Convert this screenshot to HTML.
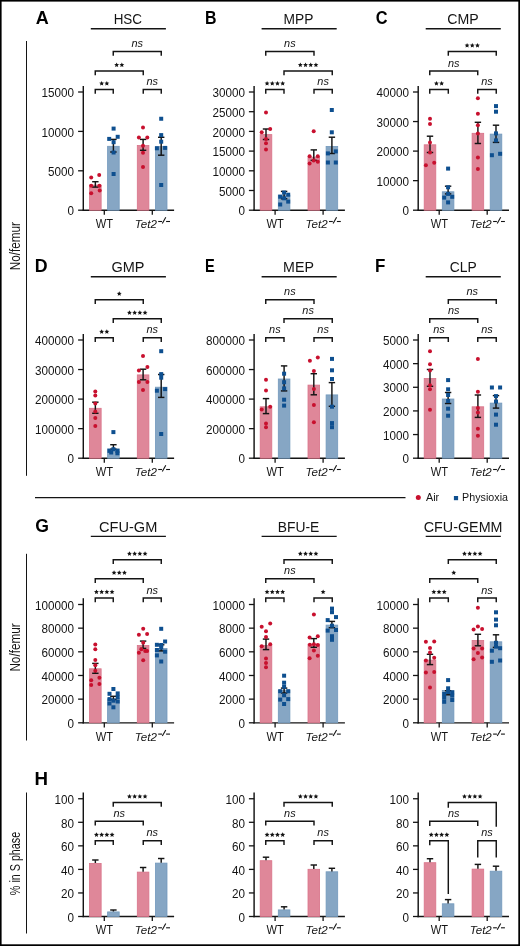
<!DOCTYPE html>
<html><head><meta charset="utf-8"><style>
html,body{margin:0;padding:0;background:#fff;width:520px;height:946px;overflow:hidden}
svg{display:block;font-family:"Liberation Sans",sans-serif;will-change:transform}
</style></head><body>
<svg width="520" height="946" viewBox="0 0 520 946">
<rect width="520" height="946" fill="#fff"/>
<line x1="26.50" y1="41.00" x2="26.50" y2="475.80" stroke="#141414" stroke-width="1.0"/>
<line x1="26.50" y1="553.80" x2="26.50" y2="740.50" stroke="#141414" stroke-width="1.0"/>
<line x1="26.50" y1="792.50" x2="26.50" y2="933.50" stroke="#141414" stroke-width="1.0"/>
<text transform="translate(20.00,270.21) rotate(-90) scale(0.794,1)" font-size="14.75" fill="#141414">No/femur</text>
<text transform="translate(20.00,671.61) rotate(-90) scale(0.796,1)" font-size="14.75" fill="#141414">No/femur</text>
<text transform="translate(20.40,895.14) rotate(-90) scale(0.729,1)" font-size="14.75" fill="#141414">% in S phase</text>
<line x1="35.00" y1="497.60" x2="405.50" y2="497.60" stroke="#141414" stroke-width="1.3"/>
<circle cx="418.30" cy="497.60" r="2.5" fill="#c8102e"/>
<text transform="translate(425.98,501.00) scale(1.045,1)" font-size="10.34" fill="#141414">Air</text>
<rect x="453.90" y="496.00" width="4.2" height="4.2" fill="#0e4f8f"/>
<text transform="translate(462.12,501.08) scale(1.026,1)" font-size="10.45" fill="#141414">Physioxia</text>
<text transform="translate(113.65,23.80) scale(0.908,1)" font-size="14.83" fill="#141414">HSC</text>
<line x1="90.80" y1="28.75" x2="165.90" y2="28.75" stroke="#141414" stroke-width="1.35"/>
<text transform="translate(35.80,23.75) scale(0.993,1)" font-size="18.17" font-weight="bold" fill="#000">A</text>
<text transform="translate(283.62,23.95) scale(0.903,1)" font-size="15.26" fill="#141414">MPP</text>
<line x1="261.60" y1="28.75" x2="336.70" y2="28.75" stroke="#141414" stroke-width="1.35"/>
<text transform="translate(204.98,23.75) scale(0.848,1)" font-size="18.75" font-weight="bold" fill="#000">B</text>
<text transform="translate(447.28,23.80) scale(0.955,1)" font-size="14.83" fill="#141414">CMP</text>
<line x1="425.70" y1="28.75" x2="500.80" y2="28.75" stroke="#141414" stroke-width="1.35"/>
<text transform="translate(375.78,23.76) scale(0.878,1)" font-size="18.64" font-weight="bold" fill="#000">C</text>
<line x1="83.30" y1="86.00" x2="83.30" y2="210.85" stroke="#141414" stroke-width="1.45"/>
<line x1="82.60" y1="210.20" x2="174.10" y2="210.20" stroke="#141414" stroke-width="1.35"/>
<line x1="104.30" y1="210.20" x2="104.30" y2="214.80" stroke="#141414" stroke-width="1.3"/>
<line x1="152.30" y1="210.20" x2="152.30" y2="214.80" stroke="#141414" stroke-width="1.3"/>
<line x1="78.10" y1="210.20" x2="83.30" y2="210.20" stroke="#141414" stroke-width="1.3"/>
<text transform="translate(74.10,215.40) scale(0.928,1)" font-size="12.60" text-anchor="end" fill="#141414">0</text>
<line x1="78.10" y1="170.80" x2="83.30" y2="170.80" stroke="#141414" stroke-width="1.3"/>
<text transform="translate(74.10,176.00) scale(0.928,1)" font-size="12.60" text-anchor="end" fill="#141414">5000</text>
<line x1="78.10" y1="131.40" x2="83.30" y2="131.40" stroke="#141414" stroke-width="1.3"/>
<text transform="translate(74.10,136.60) scale(0.928,1)" font-size="12.60" text-anchor="end" fill="#141414">10000</text>
<line x1="78.10" y1="92.00" x2="83.30" y2="92.00" stroke="#141414" stroke-width="1.3"/>
<text transform="translate(74.10,97.20) scale(0.928,1)" font-size="12.60" text-anchor="end" fill="#141414">15000</text>
<line x1="254.10" y1="86.00" x2="254.10" y2="210.85" stroke="#141414" stroke-width="1.45"/>
<line x1="253.40" y1="210.20" x2="344.90" y2="210.20" stroke="#141414" stroke-width="1.35"/>
<line x1="275.10" y1="210.20" x2="275.10" y2="214.80" stroke="#141414" stroke-width="1.3"/>
<line x1="323.10" y1="210.20" x2="323.10" y2="214.80" stroke="#141414" stroke-width="1.3"/>
<line x1="248.90" y1="210.20" x2="254.10" y2="210.20" stroke="#141414" stroke-width="1.3"/>
<text transform="translate(244.90,215.40) scale(0.928,1)" font-size="12.60" text-anchor="end" fill="#141414">0</text>
<line x1="248.90" y1="190.50" x2="254.10" y2="190.50" stroke="#141414" stroke-width="1.3"/>
<text transform="translate(244.90,195.70) scale(0.928,1)" font-size="12.60" text-anchor="end" fill="#141414">5000</text>
<line x1="248.90" y1="170.80" x2="254.10" y2="170.80" stroke="#141414" stroke-width="1.3"/>
<text transform="translate(244.90,176.00) scale(0.928,1)" font-size="12.60" text-anchor="end" fill="#141414">10000</text>
<line x1="248.90" y1="151.10" x2="254.10" y2="151.10" stroke="#141414" stroke-width="1.3"/>
<text transform="translate(244.90,156.30) scale(0.928,1)" font-size="12.60" text-anchor="end" fill="#141414">15000</text>
<line x1="248.90" y1="131.40" x2="254.10" y2="131.40" stroke="#141414" stroke-width="1.3"/>
<text transform="translate(244.90,136.60) scale(0.928,1)" font-size="12.60" text-anchor="end" fill="#141414">20000</text>
<line x1="248.90" y1="111.70" x2="254.10" y2="111.70" stroke="#141414" stroke-width="1.3"/>
<text transform="translate(244.90,116.90) scale(0.928,1)" font-size="12.60" text-anchor="end" fill="#141414">25000</text>
<line x1="248.90" y1="92.00" x2="254.10" y2="92.00" stroke="#141414" stroke-width="1.3"/>
<text transform="translate(244.90,97.20) scale(0.928,1)" font-size="12.60" text-anchor="end" fill="#141414">30000</text>
<line x1="418.20" y1="86.00" x2="418.20" y2="210.85" stroke="#141414" stroke-width="1.45"/>
<line x1="417.50" y1="210.20" x2="509.00" y2="210.20" stroke="#141414" stroke-width="1.35"/>
<line x1="439.20" y1="210.20" x2="439.20" y2="214.80" stroke="#141414" stroke-width="1.3"/>
<line x1="487.20" y1="210.20" x2="487.20" y2="214.80" stroke="#141414" stroke-width="1.3"/>
<line x1="413.00" y1="210.20" x2="418.20" y2="210.20" stroke="#141414" stroke-width="1.3"/>
<text transform="translate(409.00,215.40) scale(0.928,1)" font-size="12.60" text-anchor="end" fill="#141414">0</text>
<line x1="413.00" y1="180.65" x2="418.20" y2="180.65" stroke="#141414" stroke-width="1.3"/>
<text transform="translate(409.00,185.85) scale(0.928,1)" font-size="12.60" text-anchor="end" fill="#141414">10000</text>
<line x1="413.00" y1="151.10" x2="418.20" y2="151.10" stroke="#141414" stroke-width="1.3"/>
<text transform="translate(409.00,156.30) scale(0.928,1)" font-size="12.60" text-anchor="end" fill="#141414">20000</text>
<line x1="413.00" y1="121.55" x2="418.20" y2="121.55" stroke="#141414" stroke-width="1.3"/>
<text transform="translate(409.00,126.75) scale(0.928,1)" font-size="12.60" text-anchor="end" fill="#141414">30000</text>
<line x1="413.00" y1="92.00" x2="418.20" y2="92.00" stroke="#141414" stroke-width="1.3"/>
<text transform="translate(409.00,97.20) scale(0.928,1)" font-size="12.60" text-anchor="end" fill="#141414">40000</text>
<text transform="translate(95.79,228.15) scale(0.891,1)" font-size="12.50" fill="#141414">WT</text>
<text transform="translate(134.81,228.04) scale(1.013,1)" font-size="11.44" font-style="italic" fill="#141414">Tet2</text>
<line x1="158.20" y1="221.50" x2="162.00" y2="221.50" stroke="#141414" stroke-width="1.1"/>
<line x1="166.10" y1="221.50" x2="170.00" y2="221.50" stroke="#141414" stroke-width="1.1"/>
<line x1="162.30" y1="223.50" x2="165.80" y2="217.30" stroke="#141414" stroke-width="1.1"/>
<text transform="translate(266.59,228.15) scale(0.891,1)" font-size="12.50" fill="#141414">WT</text>
<text transform="translate(305.61,228.04) scale(1.013,1)" font-size="11.44" font-style="italic" fill="#141414">Tet2</text>
<line x1="329.00" y1="221.50" x2="332.80" y2="221.50" stroke="#141414" stroke-width="1.1"/>
<line x1="336.90" y1="221.50" x2="340.80" y2="221.50" stroke="#141414" stroke-width="1.1"/>
<line x1="333.10" y1="223.50" x2="336.60" y2="217.30" stroke="#141414" stroke-width="1.1"/>
<text transform="translate(430.69,228.15) scale(0.891,1)" font-size="12.50" fill="#141414">WT</text>
<text transform="translate(469.71,228.04) scale(1.013,1)" font-size="11.44" font-style="italic" fill="#141414">Tet2</text>
<line x1="493.10" y1="221.50" x2="496.90" y2="221.50" stroke="#141414" stroke-width="1.1"/>
<line x1="501.00" y1="221.50" x2="504.90" y2="221.50" stroke="#141414" stroke-width="1.1"/>
<line x1="497.20" y1="223.50" x2="500.70" y2="217.30" stroke="#141414" stroke-width="1.1"/>
<path d="M95.25,93.70 L95.25,89.50 L113.25,89.50 L113.25,93.70" fill="none" stroke="#141414" stroke-width="1.45" stroke-linejoin="miter" stroke-linecap="butt"/>
<path d="M101.65,80.90 L102.35,82.53 L104.12,82.69 L102.79,83.87 L103.18,85.60 L101.65,84.69 L100.12,85.60 L100.51,83.87 L99.18,82.69 L100.95,82.53Z M106.85,80.90 L107.55,82.53 L109.32,82.69 L107.99,83.87 L108.38,85.60 L106.85,84.69 L105.32,85.60 L105.71,83.87 L104.38,82.69 L106.15,82.53Z" fill="#141414"/>
<path d="M143.25,93.70 L143.25,89.50 L161.25,89.50 L161.25,93.70" fill="none" stroke="#141414" stroke-width="1.45" stroke-linejoin="miter" stroke-linecap="butt"/>
<text transform="translate(152.25,85.10) scale(0.96,1)" font-size="11.4" font-style="italic" text-anchor="middle" fill="#141414">ns</text>
<path d="M95.25,75.20 L95.25,71.00 L143.25,71.00 L143.25,75.20" fill="none" stroke="#141414" stroke-width="1.45" stroke-linejoin="miter" stroke-linecap="butt"/>
<path d="M116.65,62.40 L117.35,64.03 L119.12,64.19 L117.79,65.37 L118.18,67.10 L116.65,66.19 L115.12,67.10 L115.51,65.37 L114.18,64.19 L115.95,64.03Z M121.85,62.40 L122.55,64.03 L124.32,64.19 L122.99,65.37 L123.38,67.10 L121.85,66.19 L120.32,67.10 L120.71,65.37 L119.38,64.19 L121.15,64.03Z" fill="#141414"/>
<path d="M113.25,55.70 L113.25,51.50 L161.25,51.50 L161.25,55.70" fill="none" stroke="#141414" stroke-width="1.45" stroke-linejoin="miter" stroke-linecap="butt"/>
<text transform="translate(137.25,47.10) scale(0.96,1)" font-size="11.4" font-style="italic" text-anchor="middle" fill="#141414">ns</text>
<path d="M265.75,93.70 L265.75,89.50 L284.00,89.50 L284.00,93.70" fill="none" stroke="#141414" stroke-width="1.45" stroke-linejoin="miter" stroke-linecap="butt"/>
<path d="M267.07,80.90 L267.78,82.53 L269.55,82.69 L268.21,83.87 L268.60,85.60 L267.07,84.69 L265.55,85.60 L265.94,83.87 L264.60,82.69 L266.37,82.53Z M272.27,80.90 L272.98,82.53 L274.75,82.69 L273.41,83.87 L273.80,85.60 L272.27,84.69 L270.75,85.60 L271.14,83.87 L269.80,82.69 L271.57,82.53Z M277.48,80.90 L278.18,82.53 L279.95,82.69 L278.61,83.87 L279.00,85.60 L277.48,84.69 L275.95,85.60 L276.34,83.87 L275.00,82.69 L276.77,82.53Z M282.68,80.90 L283.38,82.53 L285.15,82.69 L283.81,83.87 L284.20,85.60 L282.68,84.69 L281.15,85.60 L281.54,83.87 L280.20,82.69 L281.97,82.53Z" fill="#141414"/>
<path d="M314.00,93.70 L314.00,89.50 L332.25,89.50 L332.25,93.70" fill="none" stroke="#141414" stroke-width="1.45" stroke-linejoin="miter" stroke-linecap="butt"/>
<text transform="translate(323.12,85.10) scale(0.96,1)" font-size="11.4" font-style="italic" text-anchor="middle" fill="#141414">ns</text>
<path d="M284.00,75.20 L284.00,71.00 L332.25,71.00 L332.25,75.20" fill="none" stroke="#141414" stroke-width="1.45" stroke-linejoin="miter" stroke-linecap="butt"/>
<path d="M300.32,62.40 L301.03,64.03 L302.80,64.19 L301.46,65.37 L301.85,67.10 L300.32,66.19 L298.80,67.10 L299.19,65.37 L297.85,64.19 L299.62,64.03Z M305.52,62.40 L306.23,64.03 L308.00,64.19 L306.66,65.37 L307.05,67.10 L305.52,66.19 L304.00,67.10 L304.39,65.37 L303.05,64.19 L304.82,64.03Z M310.73,62.40 L311.43,64.03 L313.20,64.19 L311.86,65.37 L312.25,67.10 L310.73,66.19 L309.20,67.10 L309.59,65.37 L308.25,64.19 L310.02,64.03Z M315.93,62.40 L316.63,64.03 L318.40,64.19 L317.06,65.37 L317.45,67.10 L315.93,66.19 L314.40,67.10 L314.79,65.37 L313.45,64.19 L315.22,64.03Z" fill="#141414"/>
<path d="M265.75,55.70 L265.75,51.50 L314.00,51.50 L314.00,55.70" fill="none" stroke="#141414" stroke-width="1.45" stroke-linejoin="miter" stroke-linecap="butt"/>
<text transform="translate(289.88,47.10) scale(0.96,1)" font-size="11.4" font-style="italic" text-anchor="middle" fill="#141414">ns</text>
<path d="M429.75,93.70 L429.75,89.50 L448.30,89.50 L448.30,93.70" fill="none" stroke="#141414" stroke-width="1.45" stroke-linejoin="miter" stroke-linecap="butt"/>
<path d="M436.42,80.90 L437.13,82.53 L438.90,82.69 L437.56,83.87 L437.95,85.60 L436.42,84.69 L434.90,85.60 L435.29,83.87 L433.95,82.69 L435.72,82.53Z M441.62,80.90 L442.33,82.53 L444.10,82.69 L442.76,83.87 L443.15,85.60 L441.62,84.69 L440.10,85.60 L440.49,83.87 L439.15,82.69 L440.92,82.53Z" fill="#141414"/>
<path d="M477.75,93.70 L477.75,89.50 L496.25,89.50 L496.25,93.70" fill="none" stroke="#141414" stroke-width="1.45" stroke-linejoin="miter" stroke-linecap="butt"/>
<text transform="translate(487.00,85.10) scale(0.96,1)" font-size="11.4" font-style="italic" text-anchor="middle" fill="#141414">ns</text>
<path d="M429.75,75.20 L429.75,71.00 L477.75,71.00 L477.75,75.20" fill="none" stroke="#141414" stroke-width="1.45" stroke-linejoin="miter" stroke-linecap="butt"/>
<text transform="translate(453.75,66.60) scale(0.96,1)" font-size="11.4" font-style="italic" text-anchor="middle" fill="#141414">ns</text>
<path d="M448.30,55.70 L448.30,51.50 L496.25,51.50 L496.25,55.70" fill="none" stroke="#141414" stroke-width="1.45" stroke-linejoin="miter" stroke-linecap="butt"/>
<path d="M467.07,42.90 L467.78,44.53 L469.55,44.69 L468.21,45.87 L468.60,47.60 L467.07,46.69 L465.55,47.60 L465.94,45.87 L464.60,44.69 L466.37,44.53Z M472.27,42.90 L472.98,44.53 L474.75,44.69 L473.41,45.87 L473.80,47.60 L472.27,46.69 L470.75,47.60 L471.14,45.87 L469.80,44.69 L471.57,44.53Z M477.47,42.90 L478.18,44.53 L479.95,44.69 L478.61,45.87 L479.00,47.60 L477.47,46.69 L475.95,47.60 L476.34,45.87 L475.00,44.69 L476.77,44.53Z" fill="#141414"/>
<rect x="89.55" y="185.10" width="11.60" height="25.10" fill="#df8799" stroke="#d97389" stroke-width="0.8"/>
<rect x="107.60" y="146.30" width="11.60" height="63.90" fill="#86a6c4" stroke="#7399bd" stroke-width="0.8"/>
<rect x="137.30" y="145.50" width="11.60" height="64.70" fill="#df8799" stroke="#d97389" stroke-width="0.8"/>
<rect x="155.40" y="146.60" width="11.60" height="63.60" fill="#86a6c4" stroke="#7399bd" stroke-width="0.8"/>
<line x1="95.35" y1="181.70" x2="95.35" y2="187.10" stroke="#141414" stroke-width="1.45"/>
<line x1="92.15" y1="181.70" x2="98.55" y2="181.70" stroke="#141414" stroke-width="1.45"/>
<line x1="92.15" y1="187.10" x2="98.55" y2="187.10" stroke="#141414" stroke-width="1.45"/>
<line x1="113.40" y1="139.40" x2="113.40" y2="152.00" stroke="#141414" stroke-width="1.45"/>
<line x1="110.20" y1="139.40" x2="116.60" y2="139.40" stroke="#141414" stroke-width="1.45"/>
<line x1="110.20" y1="152.00" x2="116.60" y2="152.00" stroke="#141414" stroke-width="1.45"/>
<line x1="143.10" y1="139.40" x2="143.10" y2="150.30" stroke="#141414" stroke-width="1.45"/>
<line x1="139.90" y1="139.40" x2="146.30" y2="139.40" stroke="#141414" stroke-width="1.45"/>
<line x1="139.90" y1="150.30" x2="146.30" y2="150.30" stroke="#141414" stroke-width="1.45"/>
<line x1="161.20" y1="137.30" x2="161.20" y2="155.20" stroke="#141414" stroke-width="1.45"/>
<line x1="158.00" y1="137.30" x2="164.40" y2="137.30" stroke="#141414" stroke-width="1.45"/>
<line x1="158.00" y1="155.20" x2="164.40" y2="155.20" stroke="#141414" stroke-width="1.45"/>
<circle cx="91.20" cy="177.60" r="2.0" fill="#c8102e"/>
<circle cx="99.20" cy="175.00" r="2.0" fill="#c8102e"/>
<circle cx="91.20" cy="185.80" r="2.0" fill="#c8102e"/>
<circle cx="99.40" cy="185.80" r="2.0" fill="#c8102e"/>
<circle cx="99.70" cy="190.40" r="2.0" fill="#c8102e"/>
<circle cx="91.20" cy="193.30" r="2.0" fill="#c8102e"/>
<rect x="111.60" y="126.60" width="4.0" height="4.0" fill="#0e4f8f"/>
<rect x="107.20" y="136.90" width="4.0" height="4.0" fill="#0e4f8f"/>
<rect x="115.70" y="134.80" width="4.0" height="4.0" fill="#0e4f8f"/>
<rect x="111.60" y="140.20" width="4.0" height="4.0" fill="#0e4f8f"/>
<rect x="111.60" y="150.50" width="4.0" height="4.0" fill="#0e4f8f"/>
<rect x="111.60" y="172.00" width="4.0" height="4.0" fill="#0e4f8f"/>
<circle cx="143.00" cy="127.50" r="2.0" fill="#c8102e"/>
<circle cx="138.90" cy="137.60" r="2.0" fill="#c8102e"/>
<circle cx="147.30" cy="137.40" r="2.0" fill="#c8102e"/>
<circle cx="143.00" cy="145.80" r="2.0" fill="#c8102e"/>
<circle cx="143.00" cy="152.80" r="2.0" fill="#c8102e"/>
<circle cx="143.00" cy="167.00" r="2.0" fill="#c8102e"/>
<rect x="159.20" y="116.75" width="4.0" height="4.0" fill="#0e4f8f"/>
<rect x="159.20" y="133.10" width="4.0" height="4.0" fill="#0e4f8f"/>
<rect x="159.20" y="139.70" width="4.0" height="4.0" fill="#0e4f8f"/>
<rect x="154.90" y="146.30" width="4.0" height="4.0" fill="#0e4f8f"/>
<rect x="163.10" y="145.90" width="4.0" height="4.0" fill="#0e4f8f"/>
<rect x="159.20" y="183.00" width="4.0" height="4.0" fill="#0e4f8f"/>
<rect x="260.20" y="134.60" width="11.60" height="75.60" fill="#df8799" stroke="#d97389" stroke-width="0.8"/>
<rect x="278.30" y="195.10" width="11.60" height="15.10" fill="#86a6c4" stroke="#7399bd" stroke-width="0.8"/>
<rect x="308.00" y="157.20" width="11.60" height="53.00" fill="#df8799" stroke="#d97389" stroke-width="0.8"/>
<rect x="326.10" y="146.40" width="11.60" height="63.80" fill="#86a6c4" stroke="#7399bd" stroke-width="0.8"/>
<line x1="266.00" y1="129.00" x2="266.00" y2="139.50" stroke="#141414" stroke-width="1.45"/>
<line x1="262.80" y1="129.00" x2="269.20" y2="129.00" stroke="#141414" stroke-width="1.45"/>
<line x1="262.80" y1="139.50" x2="269.20" y2="139.50" stroke="#141414" stroke-width="1.45"/>
<line x1="284.10" y1="191.40" x2="284.10" y2="198.80" stroke="#141414" stroke-width="1.45"/>
<line x1="280.90" y1="191.40" x2="287.30" y2="191.40" stroke="#141414" stroke-width="1.45"/>
<line x1="280.90" y1="198.80" x2="287.30" y2="198.80" stroke="#141414" stroke-width="1.45"/>
<line x1="313.80" y1="149.90" x2="313.80" y2="160.40" stroke="#141414" stroke-width="1.45"/>
<line x1="310.60" y1="149.90" x2="317.00" y2="149.90" stroke="#141414" stroke-width="1.45"/>
<line x1="310.60" y1="160.40" x2="317.00" y2="160.40" stroke="#141414" stroke-width="1.45"/>
<line x1="331.90" y1="137.20" x2="331.90" y2="153.50" stroke="#141414" stroke-width="1.45"/>
<line x1="328.70" y1="137.20" x2="335.10" y2="137.20" stroke="#141414" stroke-width="1.45"/>
<line x1="328.70" y1="153.50" x2="335.10" y2="153.50" stroke="#141414" stroke-width="1.45"/>
<circle cx="266.00" cy="112.50" r="2.0" fill="#c8102e"/>
<circle cx="270.20" cy="129.00" r="2.0" fill="#c8102e"/>
<circle cx="261.70" cy="132.30" r="2.0" fill="#c8102e"/>
<circle cx="266.00" cy="139.10" r="2.0" fill="#c8102e"/>
<circle cx="266.00" cy="143.20" r="2.0" fill="#c8102e"/>
<circle cx="266.00" cy="149.40" r="2.0" fill="#c8102e"/>
<rect x="282.10" y="190.60" width="4.0" height="4.0" fill="#0e4f8f"/>
<rect x="278.20" y="194.70" width="4.0" height="4.0" fill="#0e4f8f"/>
<rect x="286.20" y="192.70" width="4.0" height="4.0" fill="#0e4f8f"/>
<rect x="282.10" y="196.30" width="4.0" height="4.0" fill="#0e4f8f"/>
<rect x="286.20" y="199.60" width="4.0" height="4.0" fill="#0e4f8f"/>
<rect x="278.20" y="202.50" width="4.0" height="4.0" fill="#0e4f8f"/>
<circle cx="313.70" cy="131.30" r="2.0" fill="#c8102e"/>
<circle cx="309.60" cy="156.30" r="2.0" fill="#c8102e"/>
<circle cx="317.80" cy="156.30" r="2.0" fill="#c8102e"/>
<circle cx="313.70" cy="160.40" r="2.0" fill="#c8102e"/>
<circle cx="317.80" cy="161.70" r="2.0" fill="#c8102e"/>
<circle cx="309.60" cy="163.60" r="2.0" fill="#c8102e"/>
<rect x="329.80" y="108.00" width="4.0" height="4.0" fill="#0e4f8f"/>
<rect x="329.80" y="130.30" width="4.0" height="4.0" fill="#0e4f8f"/>
<rect x="325.90" y="151.40" width="4.0" height="4.0" fill="#0e4f8f"/>
<rect x="333.80" y="149.40" width="4.0" height="4.0" fill="#0e4f8f"/>
<rect x="325.90" y="160.50" width="4.0" height="4.0" fill="#0e4f8f"/>
<rect x="333.80" y="160.50" width="4.0" height="4.0" fill="#0e4f8f"/>
<rect x="424.20" y="144.80" width="11.60" height="65.40" fill="#df8799" stroke="#d97389" stroke-width="0.8"/>
<rect x="442.30" y="191.80" width="11.60" height="18.40" fill="#86a6c4" stroke="#7399bd" stroke-width="0.8"/>
<rect x="472.10" y="133.30" width="11.60" height="76.90" fill="#df8799" stroke="#d97389" stroke-width="0.8"/>
<rect x="490.20" y="134.10" width="11.60" height="76.10" fill="#86a6c4" stroke="#7399bd" stroke-width="0.8"/>
<line x1="430.00" y1="136.20" x2="430.00" y2="152.50" stroke="#141414" stroke-width="1.45"/>
<line x1="426.80" y1="136.20" x2="433.20" y2="136.20" stroke="#141414" stroke-width="1.45"/>
<line x1="426.80" y1="152.50" x2="433.20" y2="152.50" stroke="#141414" stroke-width="1.45"/>
<line x1="448.10" y1="186.20" x2="448.10" y2="193.90" stroke="#141414" stroke-width="1.45"/>
<line x1="444.90" y1="186.20" x2="451.30" y2="186.20" stroke="#141414" stroke-width="1.45"/>
<line x1="444.90" y1="193.90" x2="451.30" y2="193.90" stroke="#141414" stroke-width="1.45"/>
<line x1="477.90" y1="122.30" x2="477.90" y2="143.50" stroke="#141414" stroke-width="1.45"/>
<line x1="474.70" y1="122.30" x2="481.10" y2="122.30" stroke="#141414" stroke-width="1.45"/>
<line x1="474.70" y1="143.50" x2="481.10" y2="143.50" stroke="#141414" stroke-width="1.45"/>
<line x1="496.00" y1="125.20" x2="496.00" y2="142.40" stroke="#141414" stroke-width="1.45"/>
<line x1="492.80" y1="125.20" x2="499.20" y2="125.20" stroke="#141414" stroke-width="1.45"/>
<line x1="492.80" y1="142.40" x2="499.20" y2="142.40" stroke="#141414" stroke-width="1.45"/>
<circle cx="430.00" cy="118.70" r="2.0" fill="#c8102e"/>
<circle cx="430.00" cy="123.90" r="2.0" fill="#c8102e"/>
<circle cx="430.00" cy="142.40" r="2.0" fill="#c8102e"/>
<circle cx="430.00" cy="152.50" r="2.0" fill="#c8102e"/>
<circle cx="425.90" cy="165.30" r="2.0" fill="#c8102e"/>
<circle cx="434.20" cy="162.80" r="2.0" fill="#c8102e"/>
<rect x="446.10" y="166.60" width="4.0" height="4.0" fill="#0e4f8f"/>
<rect x="446.10" y="185.30" width="4.0" height="4.0" fill="#0e4f8f"/>
<rect x="446.10" y="191.90" width="4.0" height="4.0" fill="#0e4f8f"/>
<rect x="442.20" y="195.60" width="4.0" height="4.0" fill="#0e4f8f"/>
<rect x="450.20" y="194.80" width="4.0" height="4.0" fill="#0e4f8f"/>
<rect x="446.10" y="200.40" width="4.0" height="4.0" fill="#0e4f8f"/>
<circle cx="477.90" cy="98.30" r="2.0" fill="#c8102e"/>
<circle cx="477.90" cy="113.80" r="2.0" fill="#c8102e"/>
<circle cx="477.90" cy="125.20" r="2.0" fill="#c8102e"/>
<circle cx="477.90" cy="133.40" r="2.0" fill="#c8102e"/>
<circle cx="477.90" cy="157.40" r="2.0" fill="#c8102e"/>
<circle cx="477.90" cy="168.90" r="2.0" fill="#c8102e"/>
<rect x="494.00" y="104.10" width="4.0" height="4.0" fill="#0e4f8f"/>
<rect x="494.00" y="109.70" width="4.0" height="4.0" fill="#0e4f8f"/>
<rect x="494.00" y="131.40" width="4.0" height="4.0" fill="#0e4f8f"/>
<rect x="494.00" y="138.40" width="4.0" height="4.0" fill="#0e4f8f"/>
<rect x="489.90" y="153.20" width="4.0" height="4.0" fill="#0e4f8f"/>
<rect x="498.10" y="151.80" width="4.0" height="4.0" fill="#0e4f8f"/>
<text transform="translate(111.53,272.00) scale(0.996,1)" font-size="14.55" fill="#141414">GMP</text>
<line x1="90.80" y1="276.75" x2="165.90" y2="276.75" stroke="#141414" stroke-width="1.35"/>
<text transform="translate(34.86,271.75) scale(0.948,1)" font-size="18.75" font-weight="bold" fill="#000">D</text>
<text transform="translate(283.08,272.15) scale(0.950,1)" font-size="14.97" fill="#141414">MEP</text>
<line x1="261.60" y1="276.75" x2="336.70" y2="276.75" stroke="#141414" stroke-width="1.35"/>
<text transform="translate(205.07,271.75) scale(0.780,1)" font-size="18.75" font-weight="bold" fill="#000">E</text>
<text transform="translate(449.74,272.00) scale(0.952,1)" font-size="14.55" fill="#141414">CLP</text>
<line x1="425.70" y1="276.75" x2="500.80" y2="276.75" stroke="#141414" stroke-width="1.35"/>
<text transform="translate(374.91,271.55) scale(0.919,1)" font-size="18.46" font-weight="bold" fill="#000">F</text>
<line x1="83.30" y1="334.00" x2="83.30" y2="458.85" stroke="#141414" stroke-width="1.45"/>
<line x1="82.60" y1="458.20" x2="174.10" y2="458.20" stroke="#141414" stroke-width="1.35"/>
<line x1="104.30" y1="458.20" x2="104.30" y2="462.80" stroke="#141414" stroke-width="1.3"/>
<line x1="152.30" y1="458.20" x2="152.30" y2="462.80" stroke="#141414" stroke-width="1.3"/>
<line x1="78.10" y1="458.20" x2="83.30" y2="458.20" stroke="#141414" stroke-width="1.3"/>
<text transform="translate(74.10,463.40) scale(0.928,1)" font-size="12.60" text-anchor="end" fill="#141414">0</text>
<line x1="78.10" y1="428.65" x2="83.30" y2="428.65" stroke="#141414" stroke-width="1.3"/>
<text transform="translate(74.10,433.85) scale(0.928,1)" font-size="12.60" text-anchor="end" fill="#141414">100000</text>
<line x1="78.10" y1="399.10" x2="83.30" y2="399.10" stroke="#141414" stroke-width="1.3"/>
<text transform="translate(74.10,404.30) scale(0.928,1)" font-size="12.60" text-anchor="end" fill="#141414">200000</text>
<line x1="78.10" y1="369.55" x2="83.30" y2="369.55" stroke="#141414" stroke-width="1.3"/>
<text transform="translate(74.10,374.75) scale(0.928,1)" font-size="12.60" text-anchor="end" fill="#141414">300000</text>
<line x1="78.10" y1="340.00" x2="83.30" y2="340.00" stroke="#141414" stroke-width="1.3"/>
<text transform="translate(74.10,345.20) scale(0.928,1)" font-size="12.60" text-anchor="end" fill="#141414">400000</text>
<line x1="254.10" y1="334.00" x2="254.10" y2="458.85" stroke="#141414" stroke-width="1.45"/>
<line x1="253.40" y1="458.20" x2="344.90" y2="458.20" stroke="#141414" stroke-width="1.35"/>
<line x1="275.10" y1="458.20" x2="275.10" y2="462.80" stroke="#141414" stroke-width="1.3"/>
<line x1="323.10" y1="458.20" x2="323.10" y2="462.80" stroke="#141414" stroke-width="1.3"/>
<line x1="248.90" y1="458.20" x2="254.10" y2="458.20" stroke="#141414" stroke-width="1.3"/>
<text transform="translate(244.90,463.40) scale(0.928,1)" font-size="12.60" text-anchor="end" fill="#141414">0</text>
<line x1="248.90" y1="428.65" x2="254.10" y2="428.65" stroke="#141414" stroke-width="1.3"/>
<text transform="translate(244.90,433.85) scale(0.928,1)" font-size="12.60" text-anchor="end" fill="#141414">200000</text>
<line x1="248.90" y1="399.10" x2="254.10" y2="399.10" stroke="#141414" stroke-width="1.3"/>
<text transform="translate(244.90,404.30) scale(0.928,1)" font-size="12.60" text-anchor="end" fill="#141414">400000</text>
<line x1="248.90" y1="369.55" x2="254.10" y2="369.55" stroke="#141414" stroke-width="1.3"/>
<text transform="translate(244.90,374.75) scale(0.928,1)" font-size="12.60" text-anchor="end" fill="#141414">600000</text>
<line x1="248.90" y1="340.00" x2="254.10" y2="340.00" stroke="#141414" stroke-width="1.3"/>
<text transform="translate(244.90,345.20) scale(0.928,1)" font-size="12.60" text-anchor="end" fill="#141414">800000</text>
<line x1="418.20" y1="334.00" x2="418.20" y2="458.85" stroke="#141414" stroke-width="1.45"/>
<line x1="417.50" y1="458.20" x2="509.00" y2="458.20" stroke="#141414" stroke-width="1.35"/>
<line x1="439.20" y1="458.20" x2="439.20" y2="462.80" stroke="#141414" stroke-width="1.3"/>
<line x1="487.20" y1="458.20" x2="487.20" y2="462.80" stroke="#141414" stroke-width="1.3"/>
<line x1="413.00" y1="458.20" x2="418.20" y2="458.20" stroke="#141414" stroke-width="1.3"/>
<text transform="translate(409.00,463.40) scale(0.928,1)" font-size="12.60" text-anchor="end" fill="#141414">0</text>
<line x1="413.00" y1="434.56" x2="418.20" y2="434.56" stroke="#141414" stroke-width="1.3"/>
<text transform="translate(409.00,439.76) scale(0.928,1)" font-size="12.60" text-anchor="end" fill="#141414">1000</text>
<line x1="413.00" y1="410.92" x2="418.20" y2="410.92" stroke="#141414" stroke-width="1.3"/>
<text transform="translate(409.00,416.12) scale(0.928,1)" font-size="12.60" text-anchor="end" fill="#141414">2000</text>
<line x1="413.00" y1="387.28" x2="418.20" y2="387.28" stroke="#141414" stroke-width="1.3"/>
<text transform="translate(409.00,392.48) scale(0.928,1)" font-size="12.60" text-anchor="end" fill="#141414">3000</text>
<line x1="413.00" y1="363.64" x2="418.20" y2="363.64" stroke="#141414" stroke-width="1.3"/>
<text transform="translate(409.00,368.84) scale(0.928,1)" font-size="12.60" text-anchor="end" fill="#141414">4000</text>
<line x1="413.00" y1="340.00" x2="418.20" y2="340.00" stroke="#141414" stroke-width="1.3"/>
<text transform="translate(409.00,345.20) scale(0.928,1)" font-size="12.60" text-anchor="end" fill="#141414">5000</text>
<text transform="translate(95.79,476.15) scale(0.891,1)" font-size="12.50" fill="#141414">WT</text>
<text transform="translate(134.81,476.04) scale(1.013,1)" font-size="11.44" font-style="italic" fill="#141414">Tet2</text>
<line x1="158.20" y1="469.50" x2="162.00" y2="469.50" stroke="#141414" stroke-width="1.1"/>
<line x1="166.10" y1="469.50" x2="170.00" y2="469.50" stroke="#141414" stroke-width="1.1"/>
<line x1="162.30" y1="471.50" x2="165.80" y2="465.30" stroke="#141414" stroke-width="1.1"/>
<text transform="translate(266.59,476.15) scale(0.891,1)" font-size="12.50" fill="#141414">WT</text>
<text transform="translate(305.61,476.04) scale(1.013,1)" font-size="11.44" font-style="italic" fill="#141414">Tet2</text>
<line x1="329.00" y1="469.50" x2="332.80" y2="469.50" stroke="#141414" stroke-width="1.1"/>
<line x1="336.90" y1="469.50" x2="340.80" y2="469.50" stroke="#141414" stroke-width="1.1"/>
<line x1="333.10" y1="471.50" x2="336.60" y2="465.30" stroke="#141414" stroke-width="1.1"/>
<text transform="translate(430.69,476.15) scale(0.891,1)" font-size="12.50" fill="#141414">WT</text>
<text transform="translate(469.71,476.04) scale(1.013,1)" font-size="11.44" font-style="italic" fill="#141414">Tet2</text>
<line x1="493.10" y1="469.50" x2="496.90" y2="469.50" stroke="#141414" stroke-width="1.1"/>
<line x1="501.00" y1="469.50" x2="504.90" y2="469.50" stroke="#141414" stroke-width="1.1"/>
<line x1="497.20" y1="471.50" x2="500.70" y2="465.30" stroke="#141414" stroke-width="1.1"/>
<path d="M95.25,341.95 L95.25,337.75 L113.25,337.75 L113.25,341.95" fill="none" stroke="#141414" stroke-width="1.45" stroke-linejoin="miter" stroke-linecap="butt"/>
<path d="M101.65,329.15 L102.35,330.78 L104.12,330.94 L102.79,332.12 L103.18,333.85 L101.65,332.94 L100.12,333.85 L100.51,332.12 L99.18,330.94 L100.95,330.78Z M106.85,329.15 L107.55,330.78 L109.32,330.94 L107.99,332.12 L108.38,333.85 L106.85,332.94 L105.32,333.85 L105.71,332.12 L104.38,330.94 L106.15,330.78Z" fill="#141414"/>
<path d="M143.25,341.95 L143.25,337.75 L161.25,337.75 L161.25,341.95" fill="none" stroke="#141414" stroke-width="1.45" stroke-linejoin="miter" stroke-linecap="butt"/>
<text transform="translate(152.25,333.35) scale(0.96,1)" font-size="11.4" font-style="italic" text-anchor="middle" fill="#141414">ns</text>
<path d="M113.25,322.95 L113.25,318.75 L161.25,318.75 L161.25,322.95" fill="none" stroke="#141414" stroke-width="1.45" stroke-linejoin="miter" stroke-linecap="butt"/>
<path d="M129.45,310.15 L130.15,311.78 L131.92,311.94 L130.59,313.12 L130.98,314.85 L129.45,313.94 L127.92,314.85 L128.31,313.12 L126.98,311.94 L128.75,311.78Z M134.65,310.15 L135.35,311.78 L137.12,311.94 L135.79,313.12 L136.18,314.85 L134.65,313.94 L133.12,314.85 L133.51,313.12 L132.18,311.94 L133.95,311.78Z M139.85,310.15 L140.55,311.78 L142.32,311.94 L140.99,313.12 L141.38,314.85 L139.85,313.94 L138.32,314.85 L138.71,313.12 L137.38,311.94 L139.15,311.78Z M145.05,310.15 L145.75,311.78 L147.52,311.94 L146.19,313.12 L146.58,314.85 L145.05,313.94 L143.52,314.85 L143.91,313.12 L142.58,311.94 L144.35,311.78Z" fill="#141414"/>
<path d="M95.25,303.95 L95.25,299.75 L143.25,299.75 L143.25,303.95" fill="none" stroke="#141414" stroke-width="1.45" stroke-linejoin="miter" stroke-linecap="butt"/>
<path d="M119.25,291.15 L119.95,292.78 L121.72,292.94 L120.39,294.12 L120.78,295.85 L119.25,294.94 L117.72,295.85 L118.11,294.12 L116.78,292.94 L118.55,292.78Z" fill="#141414"/>
<path d="M265.75,341.95 L265.75,337.75 L284.00,337.75 L284.00,341.95" fill="none" stroke="#141414" stroke-width="1.45" stroke-linejoin="miter" stroke-linecap="butt"/>
<text transform="translate(274.88,333.35) scale(0.96,1)" font-size="11.4" font-style="italic" text-anchor="middle" fill="#141414">ns</text>
<path d="M314.00,341.95 L314.00,337.75 L332.25,337.75 L332.25,341.95" fill="none" stroke="#141414" stroke-width="1.45" stroke-linejoin="miter" stroke-linecap="butt"/>
<text transform="translate(323.12,333.35) scale(0.96,1)" font-size="11.4" font-style="italic" text-anchor="middle" fill="#141414">ns</text>
<path d="M284.00,322.95 L284.00,318.75 L332.25,318.75 L332.25,322.95" fill="none" stroke="#141414" stroke-width="1.45" stroke-linejoin="miter" stroke-linecap="butt"/>
<text transform="translate(308.12,314.35) scale(0.96,1)" font-size="11.4" font-style="italic" text-anchor="middle" fill="#141414">ns</text>
<path d="M265.75,303.95 L265.75,299.75 L314.00,299.75 L314.00,303.95" fill="none" stroke="#141414" stroke-width="1.45" stroke-linejoin="miter" stroke-linecap="butt"/>
<text transform="translate(289.88,295.35) scale(0.96,1)" font-size="11.4" font-style="italic" text-anchor="middle" fill="#141414">ns</text>
<path d="M429.75,341.95 L429.75,337.75 L448.30,337.75 L448.30,341.95" fill="none" stroke="#141414" stroke-width="1.45" stroke-linejoin="miter" stroke-linecap="butt"/>
<text transform="translate(439.02,333.35) scale(0.96,1)" font-size="11.4" font-style="italic" text-anchor="middle" fill="#141414">ns</text>
<path d="M477.75,341.95 L477.75,337.75 L496.25,337.75 L496.25,341.95" fill="none" stroke="#141414" stroke-width="1.45" stroke-linejoin="miter" stroke-linecap="butt"/>
<text transform="translate(487.00,333.35) scale(0.96,1)" font-size="11.4" font-style="italic" text-anchor="middle" fill="#141414">ns</text>
<path d="M429.75,322.95 L429.75,318.75 L477.75,318.75 L477.75,322.95" fill="none" stroke="#141414" stroke-width="1.45" stroke-linejoin="miter" stroke-linecap="butt"/>
<text transform="translate(453.75,314.35) scale(0.96,1)" font-size="11.4" font-style="italic" text-anchor="middle" fill="#141414">ns</text>
<path d="M448.30,303.95 L448.30,299.75 L496.25,299.75 L496.25,303.95" fill="none" stroke="#141414" stroke-width="1.45" stroke-linejoin="miter" stroke-linecap="butt"/>
<text transform="translate(472.27,295.35) scale(0.96,1)" font-size="11.4" font-style="italic" text-anchor="middle" fill="#141414">ns</text>
<rect x="89.55" y="408.30" width="11.60" height="49.90" fill="#df8799" stroke="#d97389" stroke-width="0.8"/>
<rect x="107.60" y="448.80" width="11.60" height="9.40" fill="#86a6c4" stroke="#7399bd" stroke-width="0.8"/>
<rect x="137.30" y="374.90" width="11.60" height="83.30" fill="#df8799" stroke="#d97389" stroke-width="0.8"/>
<rect x="155.40" y="387.20" width="11.60" height="71.00" fill="#86a6c4" stroke="#7399bd" stroke-width="0.8"/>
<line x1="95.35" y1="402.20" x2="95.35" y2="413.30" stroke="#141414" stroke-width="1.45"/>
<line x1="92.15" y1="402.20" x2="98.55" y2="402.20" stroke="#141414" stroke-width="1.45"/>
<line x1="92.15" y1="413.30" x2="98.55" y2="413.30" stroke="#141414" stroke-width="1.45"/>
<line x1="113.40" y1="444.70" x2="113.40" y2="449.20" stroke="#141414" stroke-width="1.45"/>
<line x1="110.20" y1="444.70" x2="116.60" y2="444.70" stroke="#141414" stroke-width="1.45"/>
<line x1="110.20" y1="449.20" x2="116.60" y2="449.20" stroke="#141414" stroke-width="1.45"/>
<line x1="143.10" y1="369.20" x2="143.10" y2="379.80" stroke="#141414" stroke-width="1.45"/>
<line x1="139.90" y1="369.20" x2="146.30" y2="369.20" stroke="#141414" stroke-width="1.45"/>
<line x1="139.90" y1="379.80" x2="146.30" y2="379.80" stroke="#141414" stroke-width="1.45"/>
<line x1="161.20" y1="374.50" x2="161.20" y2="397.40" stroke="#141414" stroke-width="1.45"/>
<line x1="158.00" y1="374.50" x2="164.40" y2="374.50" stroke="#141414" stroke-width="1.45"/>
<line x1="158.00" y1="397.40" x2="164.40" y2="397.40" stroke="#141414" stroke-width="1.45"/>
<circle cx="95.30" cy="391.50" r="2.0" fill="#c8102e"/>
<circle cx="95.30" cy="395.60" r="2.0" fill="#c8102e"/>
<circle cx="95.30" cy="403.50" r="2.0" fill="#c8102e"/>
<circle cx="95.30" cy="411.60" r="2.0" fill="#c8102e"/>
<circle cx="95.30" cy="417.90" r="2.0" fill="#c8102e"/>
<circle cx="95.30" cy="425.90" r="2.0" fill="#c8102e"/>
<rect x="111.40" y="430.10" width="4.0" height="4.0" fill="#0e4f8f"/>
<rect x="107.50" y="448.90" width="4.0" height="4.0" fill="#0e4f8f"/>
<rect x="111.40" y="447.20" width="4.0" height="4.0" fill="#0e4f8f"/>
<rect x="115.40" y="448.90" width="4.0" height="4.0" fill="#0e4f8f"/>
<rect x="109.20" y="450.50" width="4.0" height="4.0" fill="#0e4f8f"/>
<rect x="115.40" y="451.30" width="4.0" height="4.0" fill="#0e4f8f"/>
<circle cx="143.00" cy="356.10" r="2.0" fill="#c8102e"/>
<circle cx="147.40" cy="367.00" r="2.0" fill="#c8102e"/>
<circle cx="138.90" cy="370.50" r="2.0" fill="#c8102e"/>
<circle cx="138.90" cy="381.90" r="2.0" fill="#c8102e"/>
<circle cx="147.40" cy="381.90" r="2.0" fill="#c8102e"/>
<circle cx="143.00" cy="390.10" r="2.0" fill="#c8102e"/>
<rect x="159.20" y="349.20" width="4.0" height="4.0" fill="#0e4f8f"/>
<rect x="159.20" y="372.10" width="4.0" height="4.0" fill="#0e4f8f"/>
<rect x="159.20" y="375.70" width="4.0" height="4.0" fill="#0e4f8f"/>
<rect x="154.90" y="388.70" width="4.0" height="4.0" fill="#0e4f8f"/>
<rect x="163.10" y="387.10" width="4.0" height="4.0" fill="#0e4f8f"/>
<rect x="159.20" y="432.00" width="4.0" height="4.0" fill="#0e4f8f"/>
<rect x="260.20" y="406.80" width="11.60" height="51.40" fill="#df8799" stroke="#d97389" stroke-width="0.8"/>
<rect x="278.30" y="379.00" width="11.60" height="79.20" fill="#86a6c4" stroke="#7399bd" stroke-width="0.8"/>
<rect x="308.00" y="385.10" width="11.60" height="73.10" fill="#df8799" stroke="#d97389" stroke-width="0.8"/>
<rect x="326.10" y="394.90" width="11.60" height="63.30" fill="#86a6c4" stroke="#7399bd" stroke-width="0.8"/>
<line x1="266.00" y1="398.60" x2="266.00" y2="413.60" stroke="#141414" stroke-width="1.45"/>
<line x1="262.80" y1="398.60" x2="269.20" y2="398.60" stroke="#141414" stroke-width="1.45"/>
<line x1="262.80" y1="413.60" x2="269.20" y2="413.60" stroke="#141414" stroke-width="1.45"/>
<line x1="284.10" y1="365.90" x2="284.10" y2="390.90" stroke="#141414" stroke-width="1.45"/>
<line x1="280.90" y1="365.90" x2="287.30" y2="365.90" stroke="#141414" stroke-width="1.45"/>
<line x1="280.90" y1="390.90" x2="287.30" y2="390.90" stroke="#141414" stroke-width="1.45"/>
<line x1="313.80" y1="373.70" x2="313.80" y2="394.80" stroke="#141414" stroke-width="1.45"/>
<line x1="310.60" y1="373.70" x2="317.00" y2="373.70" stroke="#141414" stroke-width="1.45"/>
<line x1="310.60" y1="394.80" x2="317.00" y2="394.80" stroke="#141414" stroke-width="1.45"/>
<line x1="331.90" y1="382.60" x2="331.90" y2="406.30" stroke="#141414" stroke-width="1.45"/>
<line x1="328.70" y1="382.60" x2="335.10" y2="382.60" stroke="#141414" stroke-width="1.45"/>
<line x1="328.70" y1="406.30" x2="335.10" y2="406.30" stroke="#141414" stroke-width="1.45"/>
<circle cx="266.00" cy="379.80" r="2.0" fill="#c8102e"/>
<circle cx="266.00" cy="390.40" r="2.0" fill="#c8102e"/>
<circle cx="261.70" cy="409.50" r="2.0" fill="#c8102e"/>
<circle cx="270.20" cy="406.70" r="2.0" fill="#c8102e"/>
<circle cx="266.00" cy="423.40" r="2.0" fill="#c8102e"/>
<circle cx="266.00" cy="427.20" r="2.0" fill="#c8102e"/>
<rect x="282.10" y="371.70" width="4.0" height="4.0" fill="#0e4f8f"/>
<rect x="282.10" y="380.20" width="4.0" height="4.0" fill="#0e4f8f"/>
<rect x="282.10" y="386.40" width="4.0" height="4.0" fill="#0e4f8f"/>
<rect x="282.10" y="397.70" width="4.0" height="4.0" fill="#0e4f8f"/>
<rect x="282.10" y="403.60" width="4.0" height="4.0" fill="#0e4f8f"/>
<circle cx="309.90" cy="360.70" r="2.0" fill="#c8102e"/>
<circle cx="317.80" cy="357.40" r="2.0" fill="#c8102e"/>
<circle cx="313.90" cy="371.10" r="2.0" fill="#c8102e"/>
<circle cx="313.90" cy="389.10" r="2.0" fill="#c8102e"/>
<circle cx="313.90" cy="405.10" r="2.0" fill="#c8102e"/>
<circle cx="313.90" cy="422.30" r="2.0" fill="#c8102e"/>
<rect x="330.00" y="356.90" width="4.0" height="4.0" fill="#0e4f8f"/>
<rect x="330.00" y="368.30" width="4.0" height="4.0" fill="#0e4f8f"/>
<rect x="330.00" y="377.00" width="4.0" height="4.0" fill="#0e4f8f"/>
<rect x="330.00" y="404.70" width="4.0" height="4.0" fill="#0e4f8f"/>
<rect x="330.00" y="421.10" width="4.0" height="4.0" fill="#0e4f8f"/>
<rect x="330.00" y="425.20" width="4.0" height="4.0" fill="#0e4f8f"/>
<rect x="424.20" y="378.50" width="11.60" height="79.70" fill="#df8799" stroke="#d97389" stroke-width="0.8"/>
<rect x="442.30" y="399.00" width="11.60" height="59.20" fill="#86a6c4" stroke="#7399bd" stroke-width="0.8"/>
<rect x="472.10" y="406.80" width="11.60" height="51.40" fill="#df8799" stroke="#d97389" stroke-width="0.8"/>
<rect x="490.20" y="403.10" width="11.60" height="55.10" fill="#86a6c4" stroke="#7399bd" stroke-width="0.8"/>
<line x1="430.00" y1="369.50" x2="430.00" y2="386.30" stroke="#141414" stroke-width="1.45"/>
<line x1="426.80" y1="369.50" x2="433.20" y2="369.50" stroke="#141414" stroke-width="1.45"/>
<line x1="426.80" y1="386.30" x2="433.20" y2="386.30" stroke="#141414" stroke-width="1.45"/>
<line x1="448.10" y1="392.50" x2="448.10" y2="403.50" stroke="#141414" stroke-width="1.45"/>
<line x1="444.90" y1="392.50" x2="451.30" y2="392.50" stroke="#141414" stroke-width="1.45"/>
<line x1="444.90" y1="403.50" x2="451.30" y2="403.50" stroke="#141414" stroke-width="1.45"/>
<line x1="477.90" y1="395.00" x2="477.90" y2="417.40" stroke="#141414" stroke-width="1.45"/>
<line x1="474.70" y1="395.00" x2="481.10" y2="395.00" stroke="#141414" stroke-width="1.45"/>
<line x1="474.70" y1="417.40" x2="481.10" y2="417.40" stroke="#141414" stroke-width="1.45"/>
<line x1="496.00" y1="395.60" x2="496.00" y2="408.10" stroke="#141414" stroke-width="1.45"/>
<line x1="492.80" y1="395.60" x2="499.20" y2="395.60" stroke="#141414" stroke-width="1.45"/>
<line x1="492.80" y1="408.10" x2="499.20" y2="408.10" stroke="#141414" stroke-width="1.45"/>
<circle cx="430.00" cy="351.20" r="2.0" fill="#c8102e"/>
<circle cx="430.00" cy="364.20" r="2.0" fill="#c8102e"/>
<circle cx="430.00" cy="370.50" r="2.0" fill="#c8102e"/>
<circle cx="430.00" cy="385.20" r="2.0" fill="#c8102e"/>
<circle cx="430.00" cy="389.30" r="2.0" fill="#c8102e"/>
<circle cx="430.00" cy="409.70" r="2.0" fill="#c8102e"/>
<rect x="446.10" y="378.10" width="4.0" height="4.0" fill="#0e4f8f"/>
<rect x="446.10" y="387.30" width="4.0" height="4.0" fill="#0e4f8f"/>
<rect x="446.10" y="393.00" width="4.0" height="4.0" fill="#0e4f8f"/>
<rect x="446.10" y="399.00" width="4.0" height="4.0" fill="#0e4f8f"/>
<rect x="446.10" y="406.70" width="4.0" height="4.0" fill="#0e4f8f"/>
<rect x="446.10" y="413.70" width="4.0" height="4.0" fill="#0e4f8f"/>
<circle cx="477.90" cy="359.00" r="2.0" fill="#c8102e"/>
<circle cx="477.90" cy="391.70" r="2.0" fill="#c8102e"/>
<circle cx="477.90" cy="407.90" r="2.0" fill="#c8102e"/>
<circle cx="477.90" cy="412.50" r="2.0" fill="#c8102e"/>
<circle cx="477.90" cy="428.80" r="2.0" fill="#c8102e"/>
<circle cx="477.90" cy="435.80" r="2.0" fill="#c8102e"/>
<rect x="489.90" y="385.50" width="4.0" height="4.0" fill="#0e4f8f"/>
<rect x="498.10" y="385.50" width="4.0" height="4.0" fill="#0e4f8f"/>
<rect x="494.00" y="394.10" width="4.0" height="4.0" fill="#0e4f8f"/>
<rect x="494.00" y="399.50" width="4.0" height="4.0" fill="#0e4f8f"/>
<rect x="494.00" y="412.60" width="4.0" height="4.0" fill="#0e4f8f"/>
<rect x="494.00" y="422.70" width="4.0" height="4.0" fill="#0e4f8f"/>
<text transform="translate(99.01,531.80) scale(0.974,1)" font-size="14.97" fill="#141414">CFU-GM</text>
<line x1="90.80" y1="536.40" x2="165.90" y2="536.40" stroke="#141414" stroke-width="1.35"/>
<text transform="translate(35.33,531.56) scale(0.953,1)" font-size="18.50" font-weight="bold" fill="#000">G</text>
<text transform="translate(277.81,531.80) scale(0.912,1)" font-size="15.19" fill="#141414">BFU-E</text>
<line x1="261.60" y1="536.40" x2="336.70" y2="536.40" stroke="#141414" stroke-width="1.35"/>
<text transform="translate(423.77,531.80) scale(0.957,1)" font-size="14.97" fill="#141414">CFU-GEMM</text>
<line x1="425.70" y1="536.40" x2="500.80" y2="536.40" stroke="#141414" stroke-width="1.35"/>
<line x1="83.30" y1="598.20" x2="83.30" y2="723.45" stroke="#141414" stroke-width="1.45"/>
<line x1="82.60" y1="722.80" x2="174.10" y2="722.80" stroke="#141414" stroke-width="1.35"/>
<line x1="104.30" y1="722.80" x2="104.30" y2="727.40" stroke="#141414" stroke-width="1.3"/>
<line x1="152.30" y1="722.80" x2="152.30" y2="727.40" stroke="#141414" stroke-width="1.3"/>
<line x1="78.10" y1="722.80" x2="83.30" y2="722.80" stroke="#141414" stroke-width="1.3"/>
<text transform="translate(74.10,728.00) scale(0.928,1)" font-size="12.60" text-anchor="end" fill="#141414">0</text>
<line x1="78.10" y1="699.14" x2="83.30" y2="699.14" stroke="#141414" stroke-width="1.3"/>
<text transform="translate(74.10,704.34) scale(0.928,1)" font-size="12.60" text-anchor="end" fill="#141414">20000</text>
<line x1="78.10" y1="675.48" x2="83.30" y2="675.48" stroke="#141414" stroke-width="1.3"/>
<text transform="translate(74.10,680.68) scale(0.928,1)" font-size="12.60" text-anchor="end" fill="#141414">40000</text>
<line x1="78.10" y1="651.82" x2="83.30" y2="651.82" stroke="#141414" stroke-width="1.3"/>
<text transform="translate(74.10,657.02) scale(0.928,1)" font-size="12.60" text-anchor="end" fill="#141414">60000</text>
<line x1="78.10" y1="628.16" x2="83.30" y2="628.16" stroke="#141414" stroke-width="1.3"/>
<text transform="translate(74.10,633.36) scale(0.928,1)" font-size="12.60" text-anchor="end" fill="#141414">80000</text>
<line x1="78.10" y1="604.50" x2="83.30" y2="604.50" stroke="#141414" stroke-width="1.3"/>
<text transform="translate(74.10,609.70) scale(0.928,1)" font-size="12.60" text-anchor="end" fill="#141414">100000</text>
<line x1="254.10" y1="598.20" x2="254.10" y2="723.45" stroke="#141414" stroke-width="1.45"/>
<line x1="253.40" y1="722.80" x2="344.90" y2="722.80" stroke="#141414" stroke-width="1.35"/>
<line x1="275.10" y1="722.80" x2="275.10" y2="727.40" stroke="#141414" stroke-width="1.3"/>
<line x1="323.10" y1="722.80" x2="323.10" y2="727.40" stroke="#141414" stroke-width="1.3"/>
<line x1="248.90" y1="722.80" x2="254.10" y2="722.80" stroke="#141414" stroke-width="1.3"/>
<text transform="translate(244.90,728.00) scale(0.928,1)" font-size="12.60" text-anchor="end" fill="#141414">0</text>
<line x1="248.90" y1="699.14" x2="254.10" y2="699.14" stroke="#141414" stroke-width="1.3"/>
<text transform="translate(244.90,704.34) scale(0.928,1)" font-size="12.60" text-anchor="end" fill="#141414">2000</text>
<line x1="248.90" y1="675.48" x2="254.10" y2="675.48" stroke="#141414" stroke-width="1.3"/>
<text transform="translate(244.90,680.68) scale(0.928,1)" font-size="12.60" text-anchor="end" fill="#141414">4000</text>
<line x1="248.90" y1="651.82" x2="254.10" y2="651.82" stroke="#141414" stroke-width="1.3"/>
<text transform="translate(244.90,657.02) scale(0.928,1)" font-size="12.60" text-anchor="end" fill="#141414">6000</text>
<line x1="248.90" y1="628.16" x2="254.10" y2="628.16" stroke="#141414" stroke-width="1.3"/>
<text transform="translate(244.90,633.36) scale(0.928,1)" font-size="12.60" text-anchor="end" fill="#141414">8000</text>
<line x1="248.90" y1="604.50" x2="254.10" y2="604.50" stroke="#141414" stroke-width="1.3"/>
<text transform="translate(244.90,609.70) scale(0.928,1)" font-size="12.60" text-anchor="end" fill="#141414">10000</text>
<line x1="418.20" y1="598.20" x2="418.20" y2="723.45" stroke="#141414" stroke-width="1.45"/>
<line x1="417.50" y1="722.80" x2="509.00" y2="722.80" stroke="#141414" stroke-width="1.35"/>
<line x1="439.20" y1="722.80" x2="439.20" y2="727.40" stroke="#141414" stroke-width="1.3"/>
<line x1="487.20" y1="722.80" x2="487.20" y2="727.40" stroke="#141414" stroke-width="1.3"/>
<line x1="413.00" y1="722.80" x2="418.20" y2="722.80" stroke="#141414" stroke-width="1.3"/>
<text transform="translate(409.00,728.00) scale(0.928,1)" font-size="12.60" text-anchor="end" fill="#141414">0</text>
<line x1="413.00" y1="699.14" x2="418.20" y2="699.14" stroke="#141414" stroke-width="1.3"/>
<text transform="translate(409.00,704.34) scale(0.928,1)" font-size="12.60" text-anchor="end" fill="#141414">2000</text>
<line x1="413.00" y1="675.48" x2="418.20" y2="675.48" stroke="#141414" stroke-width="1.3"/>
<text transform="translate(409.00,680.68) scale(0.928,1)" font-size="12.60" text-anchor="end" fill="#141414">4000</text>
<line x1="413.00" y1="651.82" x2="418.20" y2="651.82" stroke="#141414" stroke-width="1.3"/>
<text transform="translate(409.00,657.02) scale(0.928,1)" font-size="12.60" text-anchor="end" fill="#141414">6000</text>
<line x1="413.00" y1="628.16" x2="418.20" y2="628.16" stroke="#141414" stroke-width="1.3"/>
<text transform="translate(409.00,633.36) scale(0.928,1)" font-size="12.60" text-anchor="end" fill="#141414">8000</text>
<line x1="413.00" y1="604.50" x2="418.20" y2="604.50" stroke="#141414" stroke-width="1.3"/>
<text transform="translate(409.00,609.70) scale(0.928,1)" font-size="12.60" text-anchor="end" fill="#141414">10000</text>
<text transform="translate(95.79,740.75) scale(0.891,1)" font-size="12.50" fill="#141414">WT</text>
<text transform="translate(134.81,740.64) scale(1.013,1)" font-size="11.44" font-style="italic" fill="#141414">Tet2</text>
<line x1="158.20" y1="734.10" x2="162.00" y2="734.10" stroke="#141414" stroke-width="1.1"/>
<line x1="166.10" y1="734.10" x2="170.00" y2="734.10" stroke="#141414" stroke-width="1.1"/>
<line x1="162.30" y1="736.10" x2="165.80" y2="729.90" stroke="#141414" stroke-width="1.1"/>
<text transform="translate(266.59,740.75) scale(0.891,1)" font-size="12.50" fill="#141414">WT</text>
<text transform="translate(305.61,740.64) scale(1.013,1)" font-size="11.44" font-style="italic" fill="#141414">Tet2</text>
<line x1="329.00" y1="734.10" x2="332.80" y2="734.10" stroke="#141414" stroke-width="1.1"/>
<line x1="336.90" y1="734.10" x2="340.80" y2="734.10" stroke="#141414" stroke-width="1.1"/>
<line x1="333.10" y1="736.10" x2="336.60" y2="729.90" stroke="#141414" stroke-width="1.1"/>
<text transform="translate(430.69,740.75) scale(0.891,1)" font-size="12.50" fill="#141414">WT</text>
<text transform="translate(469.71,740.64) scale(1.013,1)" font-size="11.44" font-style="italic" fill="#141414">Tet2</text>
<line x1="493.10" y1="734.10" x2="496.90" y2="734.10" stroke="#141414" stroke-width="1.1"/>
<line x1="501.00" y1="734.10" x2="504.90" y2="734.10" stroke="#141414" stroke-width="1.1"/>
<line x1="497.20" y1="736.10" x2="500.70" y2="729.90" stroke="#141414" stroke-width="1.1"/>
<path d="M95.25,602.20 L95.25,598.00 L113.25,598.00 L113.25,602.20" fill="none" stroke="#141414" stroke-width="1.45" stroke-linejoin="miter" stroke-linecap="butt"/>
<path d="M96.45,589.40 L97.15,591.03 L98.92,591.19 L97.59,592.37 L97.98,594.10 L96.45,593.19 L94.92,594.10 L95.31,592.37 L93.98,591.19 L95.75,591.03Z M101.65,589.40 L102.35,591.03 L104.12,591.19 L102.79,592.37 L103.18,594.10 L101.65,593.19 L100.12,594.10 L100.51,592.37 L99.18,591.19 L100.95,591.03Z M106.85,589.40 L107.55,591.03 L109.32,591.19 L107.99,592.37 L108.38,594.10 L106.85,593.19 L105.32,594.10 L105.71,592.37 L104.38,591.19 L106.15,591.03Z M112.05,589.40 L112.75,591.03 L114.52,591.19 L113.19,592.37 L113.58,594.10 L112.05,593.19 L110.52,594.10 L110.91,592.37 L109.58,591.19 L111.35,591.03Z" fill="#141414"/>
<path d="M143.25,602.20 L143.25,598.00 L161.25,598.00 L161.25,602.20" fill="none" stroke="#141414" stroke-width="1.45" stroke-linejoin="miter" stroke-linecap="butt"/>
<text transform="translate(152.25,593.60) scale(0.96,1)" font-size="11.4" font-style="italic" text-anchor="middle" fill="#141414">ns</text>
<path d="M95.25,582.95 L95.25,578.75 L143.25,578.75 L143.25,582.95" fill="none" stroke="#141414" stroke-width="1.45" stroke-linejoin="miter" stroke-linecap="butt"/>
<path d="M114.05,570.15 L114.75,571.78 L116.52,571.94 L115.19,573.12 L115.58,574.85 L114.05,573.94 L112.52,574.85 L112.91,573.12 L111.58,571.94 L113.35,571.78Z M119.25,570.15 L119.95,571.78 L121.72,571.94 L120.39,573.12 L120.78,574.85 L119.25,573.94 L117.72,574.85 L118.11,573.12 L116.78,571.94 L118.55,571.78Z M124.45,570.15 L125.15,571.78 L126.92,571.94 L125.59,573.12 L125.98,574.85 L124.45,573.94 L122.92,574.85 L123.31,573.12 L121.98,571.94 L123.75,571.78Z" fill="#141414"/>
<path d="M113.25,563.95 L113.25,559.75 L161.25,559.75 L161.25,563.95" fill="none" stroke="#141414" stroke-width="1.45" stroke-linejoin="miter" stroke-linecap="butt"/>
<path d="M129.45,551.15 L130.15,552.78 L131.92,552.94 L130.59,554.12 L130.98,555.85 L129.45,554.94 L127.92,555.85 L128.31,554.12 L126.98,552.94 L128.75,552.78Z M134.65,551.15 L135.35,552.78 L137.12,552.94 L135.79,554.12 L136.18,555.85 L134.65,554.94 L133.12,555.85 L133.51,554.12 L132.18,552.94 L133.95,552.78Z M139.85,551.15 L140.55,552.78 L142.32,552.94 L140.99,554.12 L141.38,555.85 L139.85,554.94 L138.32,555.85 L138.71,554.12 L137.38,552.94 L139.15,552.78Z M145.05,551.15 L145.75,552.78 L147.52,552.94 L146.19,554.12 L146.58,555.85 L145.05,554.94 L143.52,555.85 L143.91,554.12 L142.58,552.94 L144.35,552.78Z" fill="#141414"/>
<path d="M265.75,602.20 L265.75,598.00 L284.00,598.00 L284.00,602.20" fill="none" stroke="#141414" stroke-width="1.45" stroke-linejoin="miter" stroke-linecap="butt"/>
<path d="M267.07,589.40 L267.78,591.03 L269.55,591.19 L268.21,592.37 L268.60,594.10 L267.07,593.19 L265.55,594.10 L265.94,592.37 L264.60,591.19 L266.37,591.03Z M272.27,589.40 L272.98,591.03 L274.75,591.19 L273.41,592.37 L273.80,594.10 L272.27,593.19 L270.75,594.10 L271.14,592.37 L269.80,591.19 L271.57,591.03Z M277.48,589.40 L278.18,591.03 L279.95,591.19 L278.61,592.37 L279.00,594.10 L277.48,593.19 L275.95,594.10 L276.34,592.37 L275.00,591.19 L276.77,591.03Z M282.68,589.40 L283.38,591.03 L285.15,591.19 L283.81,592.37 L284.20,594.10 L282.68,593.19 L281.15,594.10 L281.54,592.37 L280.20,591.19 L281.97,591.03Z" fill="#141414"/>
<path d="M314.00,602.20 L314.00,598.00 L332.25,598.00 L332.25,602.20" fill="none" stroke="#141414" stroke-width="1.45" stroke-linejoin="miter" stroke-linecap="butt"/>
<path d="M323.12,589.40 L323.83,591.03 L325.60,591.19 L324.26,592.37 L324.65,594.10 L323.12,593.19 L321.60,594.10 L321.99,592.37 L320.65,591.19 L322.42,591.03Z" fill="#141414"/>
<path d="M265.75,582.95 L265.75,578.75 L314.00,578.75 L314.00,582.95" fill="none" stroke="#141414" stroke-width="1.45" stroke-linejoin="miter" stroke-linecap="butt"/>
<text transform="translate(289.88,574.35) scale(0.96,1)" font-size="11.4" font-style="italic" text-anchor="middle" fill="#141414">ns</text>
<path d="M284.00,563.95 L284.00,559.75 L332.25,559.75 L332.25,563.95" fill="none" stroke="#141414" stroke-width="1.45" stroke-linejoin="miter" stroke-linecap="butt"/>
<path d="M300.32,551.15 L301.03,552.78 L302.80,552.94 L301.46,554.12 L301.85,555.85 L300.32,554.94 L298.80,555.85 L299.19,554.12 L297.85,552.94 L299.62,552.78Z M305.52,551.15 L306.23,552.78 L308.00,552.94 L306.66,554.12 L307.05,555.85 L305.52,554.94 L304.00,555.85 L304.39,554.12 L303.05,552.94 L304.82,552.78Z M310.73,551.15 L311.43,552.78 L313.20,552.94 L311.86,554.12 L312.25,555.85 L310.73,554.94 L309.20,555.85 L309.59,554.12 L308.25,552.94 L310.02,552.78Z M315.93,551.15 L316.63,552.78 L318.40,552.94 L317.06,554.12 L317.45,555.85 L315.93,554.94 L314.40,555.85 L314.79,554.12 L313.45,552.94 L315.22,552.78Z" fill="#141414"/>
<path d="M429.75,602.20 L429.75,598.00 L448.30,598.00 L448.30,602.20" fill="none" stroke="#141414" stroke-width="1.45" stroke-linejoin="miter" stroke-linecap="butt"/>
<path d="M433.82,589.40 L434.53,591.03 L436.30,591.19 L434.96,592.37 L435.35,594.10 L433.82,593.19 L432.30,594.10 L432.69,592.37 L431.35,591.19 L433.12,591.03Z M439.02,589.40 L439.73,591.03 L441.50,591.19 L440.16,592.37 L440.55,594.10 L439.02,593.19 L437.50,594.10 L437.89,592.37 L436.55,591.19 L438.32,591.03Z M444.22,589.40 L444.93,591.03 L446.70,591.19 L445.36,592.37 L445.75,594.10 L444.22,593.19 L442.70,594.10 L443.09,592.37 L441.75,591.19 L443.52,591.03Z" fill="#141414"/>
<path d="M477.75,602.20 L477.75,598.00 L496.25,598.00 L496.25,602.20" fill="none" stroke="#141414" stroke-width="1.45" stroke-linejoin="miter" stroke-linecap="butt"/>
<text transform="translate(487.00,593.60) scale(0.96,1)" font-size="11.4" font-style="italic" text-anchor="middle" fill="#141414">ns</text>
<path d="M429.75,582.95 L429.75,578.75 L477.75,578.75 L477.75,582.95" fill="none" stroke="#141414" stroke-width="1.45" stroke-linejoin="miter" stroke-linecap="butt"/>
<path d="M453.75,570.15 L454.45,571.78 L456.22,571.94 L454.89,573.12 L455.28,574.85 L453.75,573.94 L452.22,574.85 L452.61,573.12 L451.28,571.94 L453.05,571.78Z" fill="#141414"/>
<path d="M448.30,563.95 L448.30,559.75 L496.25,559.75 L496.25,563.95" fill="none" stroke="#141414" stroke-width="1.45" stroke-linejoin="miter" stroke-linecap="butt"/>
<path d="M464.47,551.15 L465.18,552.78 L466.95,552.94 L465.61,554.12 L466.00,555.85 L464.47,554.94 L462.95,555.85 L463.34,554.12 L462.00,552.94 L463.77,552.78Z M469.67,551.15 L470.38,552.78 L472.15,552.94 L470.81,554.12 L471.20,555.85 L469.67,554.94 L468.15,555.85 L468.54,554.12 L467.20,552.94 L468.97,552.78Z M474.88,551.15 L475.58,552.78 L477.35,552.94 L476.01,554.12 L476.40,555.85 L474.88,554.94 L473.35,555.85 L473.74,554.12 L472.40,552.94 L474.17,552.78Z M480.07,551.15 L480.78,552.78 L482.55,552.94 L481.21,554.12 L481.60,555.85 L480.07,554.94 L478.55,555.85 L478.94,554.12 L477.60,552.94 L479.37,552.78Z" fill="#141414"/>
<rect x="89.55" y="668.80" width="11.60" height="54.00" fill="#df8799" stroke="#d97389" stroke-width="0.8"/>
<rect x="107.60" y="698.70" width="11.60" height="24.10" fill="#86a6c4" stroke="#7399bd" stroke-width="0.8"/>
<rect x="137.30" y="645.50" width="11.60" height="77.30" fill="#df8799" stroke="#d97389" stroke-width="0.8"/>
<rect x="155.40" y="648.50" width="11.60" height="74.30" fill="#86a6c4" stroke="#7399bd" stroke-width="0.8"/>
<line x1="95.35" y1="663.40" x2="95.35" y2="673.30" stroke="#141414" stroke-width="1.45"/>
<line x1="92.15" y1="663.40" x2="98.55" y2="663.40" stroke="#141414" stroke-width="1.45"/>
<line x1="92.15" y1="673.30" x2="98.55" y2="673.30" stroke="#141414" stroke-width="1.45"/>
<line x1="113.40" y1="696.30" x2="113.40" y2="699.60" stroke="#141414" stroke-width="1.45"/>
<line x1="110.20" y1="696.30" x2="116.60" y2="696.30" stroke="#141414" stroke-width="1.45"/>
<line x1="110.20" y1="699.60" x2="116.60" y2="699.60" stroke="#141414" stroke-width="1.45"/>
<line x1="143.10" y1="641.10" x2="143.10" y2="648.40" stroke="#141414" stroke-width="1.45"/>
<line x1="139.90" y1="641.10" x2="146.30" y2="641.10" stroke="#141414" stroke-width="1.45"/>
<line x1="139.90" y1="648.40" x2="146.30" y2="648.40" stroke="#141414" stroke-width="1.45"/>
<line x1="161.20" y1="644.80" x2="161.20" y2="650.90" stroke="#141414" stroke-width="1.45"/>
<line x1="158.00" y1="644.80" x2="164.40" y2="644.80" stroke="#141414" stroke-width="1.45"/>
<line x1="158.00" y1="650.90" x2="164.40" y2="650.90" stroke="#141414" stroke-width="1.45"/>
<circle cx="95.30" cy="644.50" r="2.0" fill="#c8102e"/>
<circle cx="95.30" cy="649.20" r="2.0" fill="#c8102e"/>
<circle cx="95.30" cy="660.00" r="2.0" fill="#c8102e"/>
<circle cx="95.30" cy="665.20" r="2.0" fill="#c8102e"/>
<circle cx="95.30" cy="670.80" r="2.0" fill="#c8102e"/>
<circle cx="91.20" cy="680.30" r="2.0" fill="#c8102e"/>
<circle cx="99.40" cy="677.80" r="2.0" fill="#c8102e"/>
<circle cx="91.20" cy="684.90" r="2.0" fill="#c8102e"/>
<circle cx="99.40" cy="683.90" r="2.0" fill="#c8102e"/>
<rect x="111.40" y="687.00" width="4.0" height="4.0" fill="#0e4f8f"/>
<rect x="107.50" y="691.80" width="4.0" height="4.0" fill="#0e4f8f"/>
<rect x="115.70" y="691.40" width="4.0" height="4.0" fill="#0e4f8f"/>
<rect x="107.50" y="697.10" width="4.0" height="4.0" fill="#0e4f8f"/>
<rect x="111.40" y="698.70" width="4.0" height="4.0" fill="#0e4f8f"/>
<rect x="115.70" y="699.50" width="4.0" height="4.0" fill="#0e4f8f"/>
<rect x="107.50" y="701.50" width="4.0" height="4.0" fill="#0e4f8f"/>
<rect x="111.40" y="705.30" width="4.0" height="4.0" fill="#0e4f8f"/>
<rect x="115.70" y="695.00" width="4.0" height="4.0" fill="#0e4f8f"/>
<circle cx="143.20" cy="628.80" r="2.0" fill="#c8102e"/>
<circle cx="138.90" cy="634.80" r="2.0" fill="#c8102e"/>
<circle cx="147.10" cy="634.00" r="2.0" fill="#c8102e"/>
<circle cx="143.20" cy="642.70" r="2.0" fill="#c8102e"/>
<circle cx="141.40" cy="649.20" r="2.0" fill="#c8102e"/>
<circle cx="145.20" cy="650.90" r="2.0" fill="#c8102e"/>
<circle cx="138.90" cy="652.80" r="2.0" fill="#c8102e"/>
<circle cx="147.10" cy="650.90" r="2.0" fill="#c8102e"/>
<circle cx="143.20" cy="660.30" r="2.0" fill="#c8102e"/>
<rect x="159.20" y="626.80" width="4.0" height="4.0" fill="#0e4f8f"/>
<rect x="163.10" y="639.50" width="4.0" height="4.0" fill="#0e4f8f"/>
<rect x="154.90" y="642.80" width="4.0" height="4.0" fill="#0e4f8f"/>
<rect x="159.20" y="645.60" width="4.0" height="4.0" fill="#0e4f8f"/>
<rect x="154.90" y="648.00" width="4.0" height="4.0" fill="#0e4f8f"/>
<rect x="163.10" y="649.70" width="4.0" height="4.0" fill="#0e4f8f"/>
<rect x="154.90" y="653.40" width="4.0" height="4.0" fill="#0e4f8f"/>
<rect x="159.20" y="659.50" width="4.0" height="4.0" fill="#0e4f8f"/>
<rect x="159.20" y="643.00" width="4.0" height="4.0" fill="#0e4f8f"/>
<rect x="260.20" y="645.50" width="11.60" height="77.30" fill="#df8799" stroke="#d97389" stroke-width="0.8"/>
<rect x="278.30" y="690.20" width="11.60" height="32.60" fill="#86a6c4" stroke="#7399bd" stroke-width="0.8"/>
<rect x="308.00" y="644.20" width="11.60" height="78.60" fill="#df8799" stroke="#d97389" stroke-width="0.8"/>
<rect x="326.10" y="625.10" width="11.60" height="97.70" fill="#86a6c4" stroke="#7399bd" stroke-width="0.8"/>
<line x1="266.00" y1="639.10" x2="266.00" y2="649.60" stroke="#141414" stroke-width="1.45"/>
<line x1="262.80" y1="639.10" x2="269.20" y2="639.10" stroke="#141414" stroke-width="1.45"/>
<line x1="262.80" y1="649.60" x2="269.20" y2="649.60" stroke="#141414" stroke-width="1.45"/>
<line x1="284.10" y1="688.10" x2="284.10" y2="693.00" stroke="#141414" stroke-width="1.45"/>
<line x1="280.90" y1="688.10" x2="287.30" y2="688.10" stroke="#141414" stroke-width="1.45"/>
<line x1="280.90" y1="693.00" x2="287.30" y2="693.00" stroke="#141414" stroke-width="1.45"/>
<line x1="313.80" y1="638.60" x2="313.80" y2="647.30" stroke="#141414" stroke-width="1.45"/>
<line x1="310.60" y1="638.60" x2="317.00" y2="638.60" stroke="#141414" stroke-width="1.45"/>
<line x1="310.60" y1="647.30" x2="317.00" y2="647.30" stroke="#141414" stroke-width="1.45"/>
<line x1="331.90" y1="621.40" x2="331.90" y2="627.70" stroke="#141414" stroke-width="1.45"/>
<line x1="328.70" y1="621.40" x2="335.10" y2="621.40" stroke="#141414" stroke-width="1.45"/>
<line x1="328.70" y1="627.70" x2="335.10" y2="627.70" stroke="#141414" stroke-width="1.45"/>
<circle cx="270.20" cy="623.60" r="2.0" fill="#c8102e"/>
<circle cx="261.70" cy="626.80" r="2.0" fill="#c8102e"/>
<circle cx="266.00" cy="631.20" r="2.0" fill="#c8102e"/>
<circle cx="266.00" cy="637.00" r="2.0" fill="#c8102e"/>
<circle cx="270.20" cy="644.30" r="2.0" fill="#c8102e"/>
<circle cx="261.70" cy="646.30" r="2.0" fill="#c8102e"/>
<circle cx="266.00" cy="658.50" r="2.0" fill="#c8102e"/>
<circle cx="266.00" cy="663.10" r="2.0" fill="#c8102e"/>
<circle cx="266.00" cy="667.20" r="2.0" fill="#c8102e"/>
<rect x="282.10" y="673.70" width="4.0" height="4.0" fill="#0e4f8f"/>
<rect x="282.10" y="680.70" width="4.0" height="4.0" fill="#0e4f8f"/>
<rect x="282.10" y="684.80" width="4.0" height="4.0" fill="#0e4f8f"/>
<rect x="278.20" y="689.20" width="4.0" height="4.0" fill="#0e4f8f"/>
<rect x="286.20" y="689.20" width="4.0" height="4.0" fill="#0e4f8f"/>
<rect x="282.10" y="693.30" width="4.0" height="4.0" fill="#0e4f8f"/>
<rect x="278.20" y="697.60" width="4.0" height="4.0" fill="#0e4f8f"/>
<rect x="286.20" y="697.10" width="4.0" height="4.0" fill="#0e4f8f"/>
<rect x="282.10" y="702.00" width="4.0" height="4.0" fill="#0e4f8f"/>
<circle cx="313.90" cy="614.40" r="2.0" fill="#c8102e"/>
<circle cx="309.60" cy="637.50" r="2.0" fill="#c8102e"/>
<circle cx="317.80" cy="636.20" r="2.0" fill="#c8102e"/>
<circle cx="309.90" cy="644.80" r="2.0" fill="#c8102e"/>
<circle cx="313.90" cy="644.30" r="2.0" fill="#c8102e"/>
<circle cx="317.80" cy="645.10" r="2.0" fill="#c8102e"/>
<circle cx="313.90" cy="650.50" r="2.0" fill="#c8102e"/>
<circle cx="317.80" cy="655.80" r="2.0" fill="#c8102e"/>
<circle cx="309.60" cy="658.20" r="2.0" fill="#c8102e"/>
<rect x="330.00" y="606.60" width="4.0" height="4.0" fill="#0e4f8f"/>
<rect x="330.00" y="610.20" width="4.0" height="4.0" fill="#0e4f8f"/>
<rect x="334.00" y="615.10" width="4.0" height="4.0" fill="#0e4f8f"/>
<rect x="325.70" y="618.10" width="4.0" height="4.0" fill="#0e4f8f"/>
<rect x="330.00" y="623.70" width="4.0" height="4.0" fill="#0e4f8f"/>
<rect x="325.70" y="628.60" width="4.0" height="4.0" fill="#0e4f8f"/>
<rect x="334.00" y="628.00" width="4.0" height="4.0" fill="#0e4f8f"/>
<rect x="330.00" y="634.20" width="4.0" height="4.0" fill="#0e4f8f"/>
<rect x="330.00" y="637.80" width="4.0" height="4.0" fill="#0e4f8f"/>
<rect x="424.20" y="660.10" width="11.60" height="62.70" fill="#df8799" stroke="#d97389" stroke-width="0.8"/>
<rect x="442.30" y="690.40" width="11.60" height="32.40" fill="#86a6c4" stroke="#7399bd" stroke-width="0.8"/>
<rect x="472.10" y="640.40" width="11.60" height="82.40" fill="#df8799" stroke="#d97389" stroke-width="0.8"/>
<rect x="490.20" y="641.80" width="11.60" height="81.00" fill="#86a6c4" stroke="#7399bd" stroke-width="0.8"/>
<line x1="430.00" y1="654.30" x2="430.00" y2="664.60" stroke="#141414" stroke-width="1.45"/>
<line x1="426.80" y1="654.30" x2="433.20" y2="654.30" stroke="#141414" stroke-width="1.45"/>
<line x1="426.80" y1="664.60" x2="433.20" y2="664.60" stroke="#141414" stroke-width="1.45"/>
<line x1="448.10" y1="690.70" x2="448.10" y2="694.80" stroke="#141414" stroke-width="1.45"/>
<line x1="444.90" y1="690.70" x2="451.30" y2="690.70" stroke="#141414" stroke-width="1.45"/>
<line x1="444.90" y1="694.80" x2="451.30" y2="694.80" stroke="#141414" stroke-width="1.45"/>
<line x1="477.90" y1="634.30" x2="477.90" y2="645.80" stroke="#141414" stroke-width="1.45"/>
<line x1="474.70" y1="634.30" x2="481.10" y2="634.30" stroke="#141414" stroke-width="1.45"/>
<line x1="474.70" y1="645.80" x2="481.10" y2="645.80" stroke="#141414" stroke-width="1.45"/>
<line x1="496.00" y1="634.80" x2="496.00" y2="647.40" stroke="#141414" stroke-width="1.45"/>
<line x1="492.80" y1="634.80" x2="499.20" y2="634.80" stroke="#141414" stroke-width="1.45"/>
<line x1="492.80" y1="647.40" x2="499.20" y2="647.40" stroke="#141414" stroke-width="1.45"/>
<circle cx="425.90" cy="641.70" r="2.0" fill="#c8102e"/>
<circle cx="434.20" cy="641.40" r="2.0" fill="#c8102e"/>
<circle cx="430.00" cy="647.90" r="2.0" fill="#c8102e"/>
<circle cx="430.00" cy="652.60" r="2.0" fill="#c8102e"/>
<circle cx="434.20" cy="657.70" r="2.0" fill="#c8102e"/>
<circle cx="425.90" cy="660.50" r="2.0" fill="#c8102e"/>
<circle cx="425.90" cy="672.40" r="2.0" fill="#c8102e"/>
<circle cx="434.20" cy="671.90" r="2.0" fill="#c8102e"/>
<circle cx="430.00" cy="687.40" r="2.0" fill="#c8102e"/>
<rect x="446.10" y="678.10" width="4.0" height="4.0" fill="#0e4f8f"/>
<rect x="446.10" y="686.30" width="4.0" height="4.0" fill="#0e4f8f"/>
<rect x="442.20" y="692.00" width="4.0" height="4.0" fill="#0e4f8f"/>
<rect x="450.20" y="690.40" width="4.0" height="4.0" fill="#0e4f8f"/>
<rect x="442.20" y="695.70" width="4.0" height="4.0" fill="#0e4f8f"/>
<rect x="450.20" y="693.60" width="4.0" height="4.0" fill="#0e4f8f"/>
<rect x="442.20" y="699.80" width="4.0" height="4.0" fill="#0e4f8f"/>
<rect x="450.20" y="698.00" width="4.0" height="4.0" fill="#0e4f8f"/>
<rect x="446.10" y="690.00" width="4.0" height="4.0" fill="#0e4f8f"/>
<circle cx="477.90" cy="607.70" r="2.0" fill="#c8102e"/>
<circle cx="473.60" cy="629.40" r="2.0" fill="#c8102e"/>
<circle cx="477.90" cy="626.50" r="2.0" fill="#c8102e"/>
<circle cx="482.10" cy="629.10" r="2.0" fill="#c8102e"/>
<circle cx="473.60" cy="648.50" r="2.0" fill="#c8102e"/>
<circle cx="482.10" cy="648.50" r="2.0" fill="#c8102e"/>
<circle cx="477.90" cy="653.10" r="2.0" fill="#c8102e"/>
<circle cx="482.10" cy="657.50" r="2.0" fill="#c8102e"/>
<circle cx="473.60" cy="659.20" r="2.0" fill="#c8102e"/>
<rect x="494.00" y="610.30" width="4.0" height="4.0" fill="#0e4f8f"/>
<rect x="494.00" y="617.60" width="4.0" height="4.0" fill="#0e4f8f"/>
<rect x="494.00" y="623.30" width="4.0" height="4.0" fill="#0e4f8f"/>
<rect x="494.00" y="640.80" width="4.0" height="4.0" fill="#0e4f8f"/>
<rect x="494.00" y="644.60" width="4.0" height="4.0" fill="#0e4f8f"/>
<rect x="489.90" y="648.70" width="4.0" height="4.0" fill="#0e4f8f"/>
<rect x="498.10" y="646.20" width="4.0" height="4.0" fill="#0e4f8f"/>
<rect x="489.90" y="659.80" width="4.0" height="4.0" fill="#0e4f8f"/>
<rect x="498.10" y="658.50" width="4.0" height="4.0" fill="#0e4f8f"/>
<text transform="translate(34.50,784.75) scale(1.013,1)" font-size="18.46" font-weight="bold" fill="#000">H</text>
<line x1="83.30" y1="792.50" x2="83.30" y2="917.15" stroke="#141414" stroke-width="1.45"/>
<line x1="82.60" y1="916.50" x2="174.10" y2="916.50" stroke="#141414" stroke-width="1.35"/>
<line x1="104.30" y1="916.50" x2="104.30" y2="921.10" stroke="#141414" stroke-width="1.3"/>
<line x1="152.30" y1="916.50" x2="152.30" y2="921.10" stroke="#141414" stroke-width="1.3"/>
<line x1="78.10" y1="916.50" x2="83.30" y2="916.50" stroke="#141414" stroke-width="1.3"/>
<text transform="translate(74.10,921.70) scale(0.928,1)" font-size="12.60" text-anchor="end" fill="#141414">0</text>
<line x1="78.10" y1="892.95" x2="83.30" y2="892.95" stroke="#141414" stroke-width="1.3"/>
<text transform="translate(74.10,898.15) scale(0.928,1)" font-size="12.60" text-anchor="end" fill="#141414">20</text>
<line x1="78.10" y1="869.40" x2="83.30" y2="869.40" stroke="#141414" stroke-width="1.3"/>
<text transform="translate(74.10,874.60) scale(0.928,1)" font-size="12.60" text-anchor="end" fill="#141414">40</text>
<line x1="78.10" y1="845.85" x2="83.30" y2="845.85" stroke="#141414" stroke-width="1.3"/>
<text transform="translate(74.10,851.05) scale(0.928,1)" font-size="12.60" text-anchor="end" fill="#141414">60</text>
<line x1="78.10" y1="822.30" x2="83.30" y2="822.30" stroke="#141414" stroke-width="1.3"/>
<text transform="translate(74.10,827.50) scale(0.928,1)" font-size="12.60" text-anchor="end" fill="#141414">80</text>
<line x1="78.10" y1="798.75" x2="83.30" y2="798.75" stroke="#141414" stroke-width="1.3"/>
<text transform="translate(74.10,803.95) scale(0.928,1)" font-size="12.60" text-anchor="end" fill="#141414">100</text>
<text transform="translate(95.79,934.45) scale(0.891,1)" font-size="12.50" fill="#141414">WT</text>
<text transform="translate(134.81,934.34) scale(1.013,1)" font-size="11.44" font-style="italic" fill="#141414">Tet2</text>
<line x1="158.20" y1="927.80" x2="162.00" y2="927.80" stroke="#141414" stroke-width="1.1"/>
<line x1="166.10" y1="927.80" x2="170.00" y2="927.80" stroke="#141414" stroke-width="1.1"/>
<line x1="162.30" y1="929.80" x2="165.80" y2="923.60" stroke="#141414" stroke-width="1.1"/>
<line x1="254.10" y1="792.50" x2="254.10" y2="917.15" stroke="#141414" stroke-width="1.45"/>
<line x1="253.40" y1="916.50" x2="344.90" y2="916.50" stroke="#141414" stroke-width="1.35"/>
<line x1="275.10" y1="916.50" x2="275.10" y2="921.10" stroke="#141414" stroke-width="1.3"/>
<line x1="323.10" y1="916.50" x2="323.10" y2="921.10" stroke="#141414" stroke-width="1.3"/>
<line x1="248.90" y1="916.50" x2="254.10" y2="916.50" stroke="#141414" stroke-width="1.3"/>
<text transform="translate(244.90,921.70) scale(0.928,1)" font-size="12.60" text-anchor="end" fill="#141414">0</text>
<line x1="248.90" y1="892.95" x2="254.10" y2="892.95" stroke="#141414" stroke-width="1.3"/>
<text transform="translate(244.90,898.15) scale(0.928,1)" font-size="12.60" text-anchor="end" fill="#141414">20</text>
<line x1="248.90" y1="869.40" x2="254.10" y2="869.40" stroke="#141414" stroke-width="1.3"/>
<text transform="translate(244.90,874.60) scale(0.928,1)" font-size="12.60" text-anchor="end" fill="#141414">40</text>
<line x1="248.90" y1="845.85" x2="254.10" y2="845.85" stroke="#141414" stroke-width="1.3"/>
<text transform="translate(244.90,851.05) scale(0.928,1)" font-size="12.60" text-anchor="end" fill="#141414">60</text>
<line x1="248.90" y1="822.30" x2="254.10" y2="822.30" stroke="#141414" stroke-width="1.3"/>
<text transform="translate(244.90,827.50) scale(0.928,1)" font-size="12.60" text-anchor="end" fill="#141414">80</text>
<line x1="248.90" y1="798.75" x2="254.10" y2="798.75" stroke="#141414" stroke-width="1.3"/>
<text transform="translate(244.90,803.95) scale(0.928,1)" font-size="12.60" text-anchor="end" fill="#141414">100</text>
<text transform="translate(266.59,934.45) scale(0.891,1)" font-size="12.50" fill="#141414">WT</text>
<text transform="translate(305.61,934.34) scale(1.013,1)" font-size="11.44" font-style="italic" fill="#141414">Tet2</text>
<line x1="329.00" y1="927.80" x2="332.80" y2="927.80" stroke="#141414" stroke-width="1.1"/>
<line x1="336.90" y1="927.80" x2="340.80" y2="927.80" stroke="#141414" stroke-width="1.1"/>
<line x1="333.10" y1="929.80" x2="336.60" y2="923.60" stroke="#141414" stroke-width="1.1"/>
<line x1="418.20" y1="792.50" x2="418.20" y2="917.15" stroke="#141414" stroke-width="1.45"/>
<line x1="417.50" y1="916.50" x2="509.00" y2="916.50" stroke="#141414" stroke-width="1.35"/>
<line x1="439.20" y1="916.50" x2="439.20" y2="921.10" stroke="#141414" stroke-width="1.3"/>
<line x1="487.20" y1="916.50" x2="487.20" y2="921.10" stroke="#141414" stroke-width="1.3"/>
<line x1="413.00" y1="916.50" x2="418.20" y2="916.50" stroke="#141414" stroke-width="1.3"/>
<text transform="translate(409.00,921.70) scale(0.928,1)" font-size="12.60" text-anchor="end" fill="#141414">0</text>
<line x1="413.00" y1="892.95" x2="418.20" y2="892.95" stroke="#141414" stroke-width="1.3"/>
<text transform="translate(409.00,898.15) scale(0.928,1)" font-size="12.60" text-anchor="end" fill="#141414">20</text>
<line x1="413.00" y1="869.40" x2="418.20" y2="869.40" stroke="#141414" stroke-width="1.3"/>
<text transform="translate(409.00,874.60) scale(0.928,1)" font-size="12.60" text-anchor="end" fill="#141414">40</text>
<line x1="413.00" y1="845.85" x2="418.20" y2="845.85" stroke="#141414" stroke-width="1.3"/>
<text transform="translate(409.00,851.05) scale(0.928,1)" font-size="12.60" text-anchor="end" fill="#141414">60</text>
<line x1="413.00" y1="822.30" x2="418.20" y2="822.30" stroke="#141414" stroke-width="1.3"/>
<text transform="translate(409.00,827.50) scale(0.928,1)" font-size="12.60" text-anchor="end" fill="#141414">80</text>
<line x1="413.00" y1="798.75" x2="418.20" y2="798.75" stroke="#141414" stroke-width="1.3"/>
<text transform="translate(409.00,803.95) scale(0.928,1)" font-size="12.60" text-anchor="end" fill="#141414">100</text>
<text transform="translate(430.69,934.45) scale(0.891,1)" font-size="12.50" fill="#141414">WT</text>
<text transform="translate(469.71,934.34) scale(1.013,1)" font-size="11.44" font-style="italic" fill="#141414">Tet2</text>
<line x1="493.10" y1="927.80" x2="496.90" y2="927.80" stroke="#141414" stroke-width="1.1"/>
<line x1="501.00" y1="927.80" x2="504.90" y2="927.80" stroke="#141414" stroke-width="1.1"/>
<line x1="497.20" y1="929.80" x2="500.70" y2="923.60" stroke="#141414" stroke-width="1.1"/>
<path d="M95.25,845.00 L95.25,840.80 L113.25,840.80 L113.25,845.00" fill="none" stroke="#141414" stroke-width="1.45" stroke-linejoin="miter" stroke-linecap="butt"/>
<path d="M96.45,832.20 L97.15,833.83 L98.92,833.99 L97.59,835.17 L97.98,836.90 L96.45,835.99 L94.92,836.90 L95.31,835.17 L93.98,833.99 L95.75,833.83Z M101.65,832.20 L102.35,833.83 L104.12,833.99 L102.79,835.17 L103.18,836.90 L101.65,835.99 L100.12,836.90 L100.51,835.17 L99.18,833.99 L100.95,833.83Z M106.85,832.20 L107.55,833.83 L109.32,833.99 L107.99,835.17 L108.38,836.90 L106.85,835.99 L105.32,836.90 L105.71,835.17 L104.38,833.99 L106.15,833.83Z M112.05,832.20 L112.75,833.83 L114.52,833.99 L113.19,835.17 L113.58,836.90 L112.05,835.99 L110.52,836.90 L110.91,835.17 L109.58,833.99 L111.35,833.83Z" fill="#141414"/>
<path d="M143.25,845.00 L143.25,840.80 L161.25,840.80 L161.25,845.00" fill="none" stroke="#141414" stroke-width="1.45" stroke-linejoin="miter" stroke-linecap="butt"/>
<text transform="translate(152.25,836.40) scale(0.96,1)" font-size="11.4" font-style="italic" text-anchor="middle" fill="#141414">ns</text>
<path d="M95.25,825.50 L95.25,821.30 L143.25,821.30 L143.25,825.50" fill="none" stroke="#141414" stroke-width="1.45" stroke-linejoin="miter" stroke-linecap="butt"/>
<text transform="translate(119.25,816.90) scale(0.96,1)" font-size="11.4" font-style="italic" text-anchor="middle" fill="#141414">ns</text>
<path d="M113.25,806.70 L113.25,802.50 L161.25,802.50 L161.25,806.70" fill="none" stroke="#141414" stroke-width="1.45" stroke-linejoin="miter" stroke-linecap="butt"/>
<path d="M129.45,793.90 L130.15,795.53 L131.92,795.69 L130.59,796.87 L130.98,798.60 L129.45,797.69 L127.92,798.60 L128.31,796.87 L126.98,795.69 L128.75,795.53Z M134.65,793.90 L135.35,795.53 L137.12,795.69 L135.79,796.87 L136.18,798.60 L134.65,797.69 L133.12,798.60 L133.51,796.87 L132.18,795.69 L133.95,795.53Z M139.85,793.90 L140.55,795.53 L142.32,795.69 L140.99,796.87 L141.38,798.60 L139.85,797.69 L138.32,798.60 L138.71,796.87 L137.38,795.69 L139.15,795.53Z M145.05,793.90 L145.75,795.53 L147.52,795.69 L146.19,796.87 L146.58,798.60 L145.05,797.69 L143.52,798.60 L143.91,796.87 L142.58,795.69 L144.35,795.53Z" fill="#141414"/>
<path d="M265.75,845.00 L265.75,840.80 L284.00,840.80 L284.00,845.00" fill="none" stroke="#141414" stroke-width="1.45" stroke-linejoin="miter" stroke-linecap="butt"/>
<path d="M267.07,832.20 L267.78,833.83 L269.55,833.99 L268.21,835.17 L268.60,836.90 L267.07,835.99 L265.55,836.90 L265.94,835.17 L264.60,833.99 L266.37,833.83Z M272.27,832.20 L272.98,833.83 L274.75,833.99 L273.41,835.17 L273.80,836.90 L272.27,835.99 L270.75,836.90 L271.14,835.17 L269.80,833.99 L271.57,833.83Z M277.48,832.20 L278.18,833.83 L279.95,833.99 L278.61,835.17 L279.00,836.90 L277.48,835.99 L275.95,836.90 L276.34,835.17 L275.00,833.99 L276.77,833.83Z M282.68,832.20 L283.38,833.83 L285.15,833.99 L283.81,835.17 L284.20,836.90 L282.68,835.99 L281.15,836.90 L281.54,835.17 L280.20,833.99 L281.97,833.83Z" fill="#141414"/>
<path d="M314.00,845.00 L314.00,840.80 L332.25,840.80 L332.25,845.00" fill="none" stroke="#141414" stroke-width="1.45" stroke-linejoin="miter" stroke-linecap="butt"/>
<text transform="translate(323.12,836.40) scale(0.96,1)" font-size="11.4" font-style="italic" text-anchor="middle" fill="#141414">ns</text>
<path d="M265.75,825.50 L265.75,821.30 L314.00,821.30 L314.00,825.50" fill="none" stroke="#141414" stroke-width="1.45" stroke-linejoin="miter" stroke-linecap="butt"/>
<text transform="translate(289.88,816.90) scale(0.96,1)" font-size="11.4" font-style="italic" text-anchor="middle" fill="#141414">ns</text>
<path d="M284.00,806.70 L284.00,802.50 L332.25,802.50 L332.25,806.70" fill="none" stroke="#141414" stroke-width="1.45" stroke-linejoin="miter" stroke-linecap="butt"/>
<path d="M300.32,793.90 L301.03,795.53 L302.80,795.69 L301.46,796.87 L301.85,798.60 L300.32,797.69 L298.80,798.60 L299.19,796.87 L297.85,795.69 L299.62,795.53Z M305.52,793.90 L306.23,795.53 L308.00,795.69 L306.66,796.87 L307.05,798.60 L305.52,797.69 L304.00,798.60 L304.39,796.87 L303.05,795.69 L304.82,795.53Z M310.73,793.90 L311.43,795.53 L313.20,795.69 L311.86,796.87 L312.25,798.60 L310.73,797.69 L309.20,798.60 L309.59,796.87 L308.25,795.69 L310.02,795.53Z M315.93,793.90 L316.63,795.53 L318.40,795.69 L317.06,796.87 L317.45,798.60 L315.93,797.69 L314.40,798.60 L314.79,796.87 L313.45,795.69 L315.22,795.53Z" fill="#141414"/>
<path d="M429.75,845.30 L429.75,840.80 L448.30,840.80 L448.30,894.10" fill="none" stroke="#141414" stroke-width="1.45" stroke-linejoin="miter" stroke-linecap="butt"/>
<path d="M431.22,832.20 L431.93,833.83 L433.70,833.99 L432.36,835.17 L432.75,836.90 L431.22,835.99 L429.70,836.90 L430.09,835.17 L428.75,833.99 L430.52,833.83Z M436.42,832.20 L437.13,833.83 L438.90,833.99 L437.56,835.17 L437.95,836.90 L436.42,835.99 L434.90,836.90 L435.29,835.17 L433.95,833.99 L435.72,833.83Z M441.62,832.20 L442.33,833.83 L444.10,833.99 L442.76,835.17 L443.15,836.90 L441.62,835.99 L440.10,836.90 L440.49,835.17 L439.15,833.99 L440.92,833.83Z M446.82,832.20 L447.53,833.83 L449.30,833.99 L447.96,835.17 L448.35,836.90 L446.82,835.99 L445.30,836.90 L445.69,835.17 L444.35,833.99 L446.12,833.83Z" fill="#141414"/>
<path d="M477.75,857.50 L477.75,840.80 L496.25,840.80 L496.25,857.50" fill="none" stroke="#141414" stroke-width="1.45" stroke-linejoin="miter" stroke-linecap="butt"/>
<text transform="translate(487.00,836.40) scale(0.96,1)" font-size="11.4" font-style="italic" text-anchor="middle" fill="#141414">ns</text>
<path d="M429.75,825.90 L429.75,821.30 L477.75,821.30 L477.75,825.90" fill="none" stroke="#141414" stroke-width="1.45" stroke-linejoin="miter" stroke-linecap="butt"/>
<text transform="translate(453.75,816.90) scale(0.96,1)" font-size="11.4" font-style="italic" text-anchor="middle" fill="#141414">ns</text>
<path d="M448.30,807.70 L448.30,802.50 L496.25,802.50 L496.25,826.70" fill="none" stroke="#141414" stroke-width="1.45" stroke-linejoin="miter" stroke-linecap="butt"/>
<path d="M464.47,793.90 L465.18,795.53 L466.95,795.69 L465.61,796.87 L466.00,798.60 L464.47,797.69 L462.95,798.60 L463.34,796.87 L462.00,795.69 L463.77,795.53Z M469.67,793.90 L470.38,795.53 L472.15,795.69 L470.81,796.87 L471.20,798.60 L469.67,797.69 L468.15,798.60 L468.54,796.87 L467.20,795.69 L468.97,795.53Z M474.88,793.90 L475.58,795.53 L477.35,795.69 L476.01,796.87 L476.40,798.60 L474.88,797.69 L473.35,798.60 L473.74,796.87 L472.40,795.69 L474.17,795.53Z M480.07,793.90 L480.78,795.53 L482.55,795.69 L481.21,796.87 L481.60,798.60 L480.07,797.69 L478.55,798.60 L478.94,796.87 L477.60,795.69 L479.37,795.53Z" fill="#141414"/>
<rect x="89.55" y="863.40" width="11.60" height="53.10" fill="#df8799" stroke="#d97389" stroke-width="0.8"/>
<rect x="107.60" y="911.90" width="11.60" height="4.60" fill="#86a6c4" stroke="#7399bd" stroke-width="0.8"/>
<rect x="137.30" y="872.10" width="11.60" height="44.40" fill="#df8799" stroke="#d97389" stroke-width="0.8"/>
<rect x="155.40" y="863.10" width="11.60" height="53.40" fill="#86a6c4" stroke="#7399bd" stroke-width="0.8"/>
<line x1="95.35" y1="860.00" x2="95.35" y2="863.00" stroke="#141414" stroke-width="1.45"/>
<line x1="92.15" y1="860.00" x2="98.55" y2="860.00" stroke="#141414" stroke-width="1.45"/>
<line x1="113.40" y1="910.00" x2="113.40" y2="911.50" stroke="#141414" stroke-width="1.45"/>
<line x1="110.20" y1="910.00" x2="116.60" y2="910.00" stroke="#141414" stroke-width="1.45"/>
<line x1="143.10" y1="867.50" x2="143.10" y2="871.70" stroke="#141414" stroke-width="1.45"/>
<line x1="139.90" y1="867.50" x2="146.30" y2="867.50" stroke="#141414" stroke-width="1.45"/>
<line x1="161.20" y1="858.50" x2="161.20" y2="862.70" stroke="#141414" stroke-width="1.45"/>
<line x1="158.00" y1="858.50" x2="164.40" y2="858.50" stroke="#141414" stroke-width="1.45"/>
<rect x="260.20" y="860.70" width="11.60" height="55.80" fill="#df8799" stroke="#d97389" stroke-width="0.8"/>
<rect x="278.30" y="909.90" width="11.60" height="6.60" fill="#86a6c4" stroke="#7399bd" stroke-width="0.8"/>
<rect x="308.00" y="869.30" width="11.60" height="47.20" fill="#df8799" stroke="#d97389" stroke-width="0.8"/>
<rect x="326.10" y="871.80" width="11.60" height="44.70" fill="#86a6c4" stroke="#7399bd" stroke-width="0.8"/>
<line x1="266.00" y1="857.20" x2="266.00" y2="860.30" stroke="#141414" stroke-width="1.45"/>
<line x1="262.80" y1="857.20" x2="269.20" y2="857.20" stroke="#141414" stroke-width="1.45"/>
<line x1="284.10" y1="906.80" x2="284.10" y2="909.50" stroke="#141414" stroke-width="1.45"/>
<line x1="280.90" y1="906.80" x2="287.30" y2="906.80" stroke="#141414" stroke-width="1.45"/>
<line x1="313.80" y1="865.00" x2="313.80" y2="868.90" stroke="#141414" stroke-width="1.45"/>
<line x1="310.60" y1="865.00" x2="317.00" y2="865.00" stroke="#141414" stroke-width="1.45"/>
<line x1="331.90" y1="868.30" x2="331.90" y2="871.40" stroke="#141414" stroke-width="1.45"/>
<line x1="328.70" y1="868.30" x2="335.10" y2="868.30" stroke="#141414" stroke-width="1.45"/>
<rect x="424.20" y="862.70" width="11.60" height="53.80" fill="#df8799" stroke="#d97389" stroke-width="0.8"/>
<rect x="442.30" y="903.80" width="11.60" height="12.70" fill="#86a6c4" stroke="#7399bd" stroke-width="0.8"/>
<rect x="472.10" y="869.10" width="11.60" height="47.40" fill="#df8799" stroke="#d97389" stroke-width="0.8"/>
<rect x="490.20" y="871.20" width="11.60" height="45.30" fill="#86a6c4" stroke="#7399bd" stroke-width="0.8"/>
<line x1="430.00" y1="858.70" x2="430.00" y2="862.30" stroke="#141414" stroke-width="1.45"/>
<line x1="426.80" y1="858.70" x2="433.20" y2="858.70" stroke="#141414" stroke-width="1.45"/>
<line x1="448.10" y1="899.60" x2="448.10" y2="903.40" stroke="#141414" stroke-width="1.45"/>
<line x1="444.90" y1="899.60" x2="451.30" y2="899.60" stroke="#141414" stroke-width="1.45"/>
<line x1="477.90" y1="864.40" x2="477.90" y2="868.70" stroke="#141414" stroke-width="1.45"/>
<line x1="474.70" y1="864.40" x2="481.10" y2="864.40" stroke="#141414" stroke-width="1.45"/>
<line x1="496.00" y1="866.20" x2="496.00" y2="870.80" stroke="#141414" stroke-width="1.45"/>
<line x1="492.80" y1="866.20" x2="499.20" y2="866.20" stroke="#141414" stroke-width="1.45"/>
<rect x="0.00" y="0.00" width="520.00" height="1.60" fill="#000"/>
<rect x="0.00" y="0.00" width="1.60" height="946.00" fill="#000"/>
<rect x="518.30" y="0.00" width="1.70" height="946.00" fill="#000"/>
<rect x="0.00" y="944.30" width="520.00" height="1.70" fill="#000"/>
</svg>
</body></html>
